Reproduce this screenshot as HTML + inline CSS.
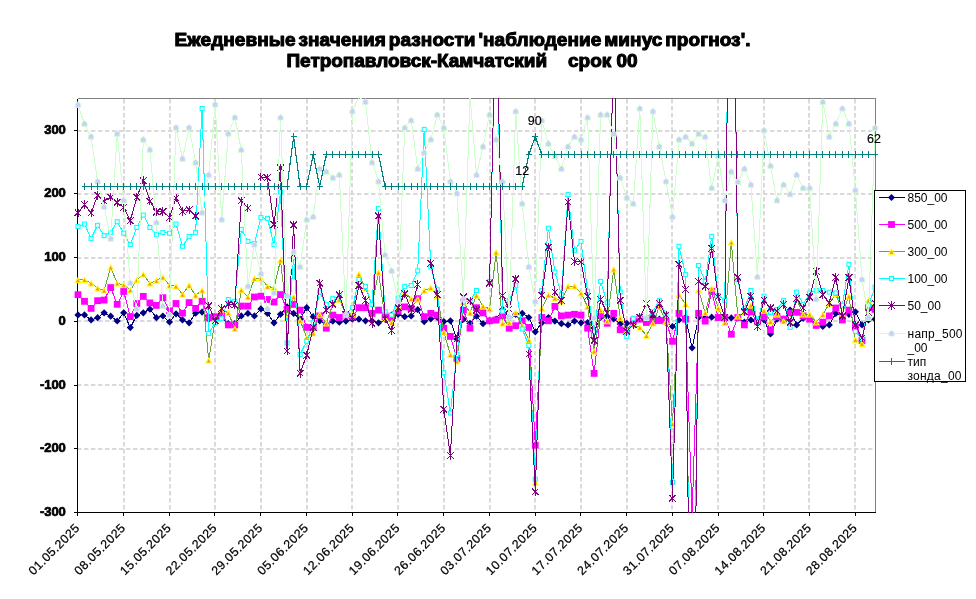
<!DOCTYPE html>
<html lang="ru"><head><meta charset="utf-8"><title>Ежедневные значения разности</title>
<style>html,body{margin:0;padding:0;background:#fff}body{width:976px;height:599px;overflow:hidden}svg{display:block}text{font-family:"Liberation Sans",Arial,sans-serif}</style></head><body>
<svg width="976" height="599" viewBox="0 0 976 599">
<rect width="976" height="599" fill="#fff"/>
<g font-weight="bold" font-size="19px" fill="#000" stroke="#000" stroke-width="1.1" stroke-linejoin="round" text-anchor="middle">
<text x="462.5" y="45.6" textLength="576" lengthAdjust="spacing" word-spacing="-2.5">Ежедневные значения разности 'наблюдение минус прогноз'.</text>
<text x="462" y="67.1" textLength="351" lengthAdjust="spacing" xml:space="preserve" style="white-space:pre">Петропавловск-Камчатский    срок 00</text>
</g>
<g stroke="#dadada" stroke-width="2" stroke-dasharray="4.4,2.6">
<line x1="77.0" x2="875.5" y1="131" y2="131"/>
<line x1="77.0" x2="875.5" y1="194" y2="194"/>
<line x1="77.0" x2="875.5" y1="258" y2="258"/>
<line x1="77.0" x2="875.5" y1="321" y2="321"/>
<line x1="77.0" x2="875.5" y1="385" y2="385"/>
<line x1="77.0" x2="875.5" y1="449" y2="449"/>
<line x1="124" x2="124" y1="99.0" y2="512.5"/>
<line x1="170" x2="170" y1="99.0" y2="512.5"/>
<line x1="215" x2="215" y1="99.0" y2="512.5"/>
<line x1="261" x2="261" y1="99.0" y2="512.5"/>
<line x1="307" x2="307" y1="99.0" y2="512.5"/>
<line x1="352" x2="352" y1="99.0" y2="512.5"/>
<line x1="398" x2="398" y1="99.0" y2="512.5"/>
<line x1="444" x2="444" y1="99.0" y2="512.5"/>
<line x1="490" x2="490" y1="99.0" y2="512.5"/>
<line x1="535" x2="535" y1="99.0" y2="512.5"/>
<line x1="581" x2="581" y1="99.0" y2="512.5"/>
<line x1="627" x2="627" y1="99.0" y2="512.5"/>
<line x1="672" x2="672" y1="99.0" y2="512.5"/>
<line x1="718" x2="718" y1="99.0" y2="512.5"/>
<line x1="764" x2="764" y1="99.0" y2="512.5"/>
<line x1="809" x2="809" y1="99.0" y2="512.5"/>
<line x1="855" x2="855" y1="99.0" y2="512.5"/>
</g>
<path d="M77.5 98.5H875.5V512.5" fill="none" stroke="#808080" stroke-width="1" shape-rendering="crispEdges"/>
<g stroke="#000" stroke-width="1" shape-rendering="crispEdges" fill="none">
<path d="M77.5 98.5V512.5H875.5"/>
<line x1="73.5" x2="77.5" y1="130.5" y2="130.5"/>
<line x1="73.5" x2="77.5" y1="193.5" y2="193.5"/>
<line x1="73.5" x2="77.5" y1="257.5" y2="257.5"/>
<line x1="73.5" x2="77.5" y1="321.5" y2="321.5"/>
<line x1="73.5" x2="77.5" y1="385.5" y2="385.5"/>
<line x1="73.5" x2="77.5" y1="448.5" y2="448.5"/>
<line x1="73.5" x2="77.5" y1="512.5" y2="512.5"/>
<line x1="77.5" x2="77.5" y1="512.5" y2="516.0"/>
<line x1="123.5" x2="123.5" y1="512.5" y2="516.0"/>
<line x1="169.5" x2="169.5" y1="512.5" y2="516.0"/>
<line x1="214.5" x2="214.5" y1="512.5" y2="516.0"/>
<line x1="260.5" x2="260.5" y1="512.5" y2="516.0"/>
<line x1="306.5" x2="306.5" y1="512.5" y2="516.0"/>
<line x1="352.5" x2="352.5" y1="512.5" y2="516.0"/>
<line x1="397.5" x2="397.5" y1="512.5" y2="516.0"/>
<line x1="443.5" x2="443.5" y1="512.5" y2="516.0"/>
<line x1="489.5" x2="489.5" y1="512.5" y2="516.0"/>
<line x1="535.5" x2="535.5" y1="512.5" y2="516.0"/>
<line x1="580.5" x2="580.5" y1="512.5" y2="516.0"/>
<line x1="626.5" x2="626.5" y1="512.5" y2="516.0"/>
<line x1="672.5" x2="672.5" y1="512.5" y2="516.0"/>
<line x1="718.5" x2="718.5" y1="512.5" y2="516.0"/>
<line x1="763.5" x2="763.5" y1="512.5" y2="516.0"/>
<line x1="809.5" x2="809.5" y1="512.5" y2="516.0"/>
<line x1="855.5" x2="855.5" y1="512.5" y2="516.0"/>
</g>
<defs><clipPath id="cp"><rect x="77.0" y="98.0" width="799.0" height="415.0"/></clipPath></defs>
<g clip-path="url(#cp)">
<path d="M78.0 314.9L84.5 314.9L91.1 319.9L97.6 317.7L104.1 312.8L110.7 316.2L117.2 321.0L123.7 312.8L130.3 327.6L136.8 315.4L143.3 312.8L149.9 309.2L156.4 317.7L162.9 316.0L169.5 322.0L176.0 313.8L182.5 319.9L189.1 322.8L195.6 313.2L202.1 312.1L208.7 319.2L215.2 319.2L221.7 317.5L228.3 323.7L234.8 323.7L241.3 315.9L247.9 313.4L254.4 315.9L260.9 308.9L267.5 313.4L274.0 322.8L280.5 314.3L287.1 306.9L293.6 313.4L300.1 319.2L306.7 307.7L313.2 316.7L319.7 320.8L326.3 324.1L332.8 321.1L339.3 322.2L345.9 321.1L352.4 319.2L358.9 319.2L365.5 320.8L372.0 321.1L378.5 322.8L385.1 319.2L391.6 315.1L398.1 314.3L404.7 316.7L411.2 315.9L417.7 309.7L424.2 321.6L430.8 318.8L437.3 317.5L443.8 321.6L450.4 320.8L456.9 338.9L463.4 319.2L470.0 323.3L476.5 316.2L483.0 323.7L489.6 320.8L496.1 319.2L502.6 309.4L509.2 317.5L515.7 314.3L522.2 313.4L528.8 317.5L535.3 331.8L541.8 322.8L548.4 317.5L554.9 321.1L561.4 323.7L568.0 324.9L574.5 321.1L581.0 322.8L587.6 322.5L594.1 331.5L600.6 317.5L607.2 316.7L613.7 318.8L620.2 324.1L626.8 323.3L633.3 324.1L639.8 317.5L646.4 319.2L652.9 316.7L659.4 319.2L666.0 322.5L672.5 326.5L679.0 320.0L685.6 317.5L692.1 347.8L698.6 317.5L705.2 317.5L711.7 317.2L718.2 317.5L724.8 316.7L731.3 317.9L737.8 317.5L744.4 322.2L750.9 320.0L757.4 322.5L764.0 320.0L770.5 333.9L777.0 319.2L783.6 319.2L790.1 310.1L796.6 324.9L803.2 318.3L809.7 317.5L816.2 324.9L822.8 326.5L829.3 324.9L835.8 313.4L842.4 315.9L848.9 314.3L855.4 311.8L862.0 324.9L868.5 320.0L875.0 319.2" fill="none" stroke="#000080" stroke-width="1" stroke-linejoin="round" shape-rendering="crispEdges"/>
</g><g>
<path d="M78 311.3L81.6 314.9L78 318.5L74.4 314.9Z" fill="#000080"/>
<path d="M84.5 311.3L88.1 314.9L84.5 318.5L80.9 314.9Z" fill="#000080"/>
<path d="M91.1 316.3L94.7 319.9L91.1 323.5L87.5 319.9Z" fill="#000080"/>
<path d="M97.6 314.1L101.2 317.7L97.6 321.3L94 317.7Z" fill="#000080"/>
<path d="M104.1 309.2L107.7 312.8L104.1 316.4L100.5 312.8Z" fill="#000080"/>
<path d="M110.7 312.6L114.3 316.2L110.7 319.8L107.1 316.2Z" fill="#000080"/>
<path d="M117.2 317.4L120.8 321L117.2 324.6L113.6 321Z" fill="#000080"/>
<path d="M123.7 309.2L127.3 312.8L123.7 316.4L120.1 312.8Z" fill="#000080"/>
<path d="M130.3 324L133.9 327.6L130.3 331.2L126.7 327.6Z" fill="#000080"/>
<path d="M136.8 311.8L140.4 315.4L136.8 319L133.2 315.4Z" fill="#000080"/>
<path d="M143.3 309.2L146.9 312.8L143.3 316.4L139.7 312.8Z" fill="#000080"/>
<path d="M149.9 305.6L153.5 309.2L149.9 312.8L146.3 309.2Z" fill="#000080"/>
<path d="M156.4 314.1L160 317.7L156.4 321.3L152.8 317.7Z" fill="#000080"/>
<path d="M162.9 312.4L166.5 316L162.9 319.6L159.3 316Z" fill="#000080"/>
<path d="M169.5 318.4L173.1 322L169.5 325.6L165.9 322Z" fill="#000080"/>
<path d="M176 310.2L179.6 313.8L176 317.4L172.4 313.8Z" fill="#000080"/>
<path d="M182.5 316.3L186.1 319.9L182.5 323.5L178.9 319.9Z" fill="#000080"/>
<path d="M189.1 319.2L192.7 322.8L189.1 326.4L185.5 322.8Z" fill="#000080"/>
<path d="M195.6 309.6L199.2 313.2L195.6 316.8L192 313.2Z" fill="#000080"/>
<path d="M202.1 308.5L205.7 312.1L202.1 315.7L198.5 312.1Z" fill="#000080"/>
<path d="M208.7 315.6L212.3 319.2L208.7 322.8L205.1 319.2Z" fill="#000080"/>
<path d="M215.2 315.6L218.8 319.2L215.2 322.8L211.6 319.2Z" fill="#000080"/>
<path d="M221.7 313.9L225.3 317.5L221.7 321.1L218.1 317.5Z" fill="#000080"/>
<path d="M228.3 320.1L231.9 323.7L228.3 327.3L224.7 323.7Z" fill="#000080"/>
<path d="M234.8 320.1L238.4 323.7L234.8 327.3L231.2 323.7Z" fill="#000080"/>
<path d="M241.3 312.3L244.9 315.9L241.3 319.5L237.7 315.9Z" fill="#000080"/>
<path d="M247.9 309.8L251.5 313.4L247.9 317L244.3 313.4Z" fill="#000080"/>
<path d="M254.4 312.3L258 315.9L254.4 319.5L250.8 315.9Z" fill="#000080"/>
<path d="M260.9 305.3L264.5 308.9L260.9 312.5L257.3 308.9Z" fill="#000080"/>
<path d="M267.5 309.8L271.1 313.4L267.5 317L263.9 313.4Z" fill="#000080"/>
<path d="M274 319.2L277.6 322.8L274 326.4L270.4 322.8Z" fill="#000080"/>
<path d="M280.5 310.7L284.1 314.3L280.5 317.9L276.9 314.3Z" fill="#000080"/>
<path d="M287.1 303.3L290.7 306.9L287.1 310.5L283.5 306.9Z" fill="#000080"/>
<path d="M293.6 309.8L297.2 313.4L293.6 317L290 313.4Z" fill="#000080"/>
<path d="M300.1 315.6L303.7 319.2L300.1 322.8L296.5 319.2Z" fill="#000080"/>
<path d="M306.7 304.1L310.3 307.7L306.7 311.3L303.1 307.7Z" fill="#000080"/>
<path d="M313.2 313.1L316.8 316.7L313.2 320.3L309.6 316.7Z" fill="#000080"/>
<path d="M319.7 317.2L323.3 320.8L319.7 324.4L316.1 320.8Z" fill="#000080"/>
<path d="M326.3 320.5L329.9 324.1L326.3 327.7L322.7 324.1Z" fill="#000080"/>
<path d="M332.8 317.5L336.4 321.1L332.8 324.7L329.2 321.1Z" fill="#000080"/>
<path d="M339.3 318.6L342.9 322.2L339.3 325.8L335.7 322.2Z" fill="#000080"/>
<path d="M345.9 317.5L349.5 321.1L345.9 324.7L342.3 321.1Z" fill="#000080"/>
<path d="M352.4 315.6L356 319.2L352.4 322.8L348.8 319.2Z" fill="#000080"/>
<path d="M358.9 315.6L362.5 319.2L358.9 322.8L355.3 319.2Z" fill="#000080"/>
<path d="M365.5 317.2L369.1 320.8L365.5 324.4L361.9 320.8Z" fill="#000080"/>
<path d="M372 317.5L375.6 321.1L372 324.7L368.4 321.1Z" fill="#000080"/>
<path d="M378.5 319.2L382.1 322.8L378.5 326.4L374.9 322.8Z" fill="#000080"/>
<path d="M385.1 315.6L388.7 319.2L385.1 322.8L381.5 319.2Z" fill="#000080"/>
<path d="M391.6 311.5L395.2 315.1L391.6 318.7L388 315.1Z" fill="#000080"/>
<path d="M398.1 310.7L401.7 314.3L398.1 317.9L394.5 314.3Z" fill="#000080"/>
<path d="M404.7 313.1L408.3 316.7L404.7 320.3L401.1 316.7Z" fill="#000080"/>
<path d="M411.2 312.3L414.8 315.9L411.2 319.5L407.6 315.9Z" fill="#000080"/>
<path d="M417.7 306.1L421.3 309.7L417.7 313.3L414.1 309.7Z" fill="#000080"/>
<path d="M424.2 318L427.8 321.6L424.2 325.2L420.6 321.6Z" fill="#000080"/>
<path d="M430.8 315.2L434.4 318.8L430.8 322.4L427.2 318.8Z" fill="#000080"/>
<path d="M437.3 313.9L440.9 317.5L437.3 321.1L433.7 317.5Z" fill="#000080"/>
<path d="M443.8 318L447.4 321.6L443.8 325.2L440.2 321.6Z" fill="#000080"/>
<path d="M450.4 317.2L454 320.8L450.4 324.4L446.8 320.8Z" fill="#000080"/>
<path d="M456.9 335.3L460.5 338.9L456.9 342.5L453.3 338.9Z" fill="#000080"/>
<path d="M463.4 315.6L467 319.2L463.4 322.8L459.8 319.2Z" fill="#000080"/>
<path d="M470 319.7L473.6 323.3L470 326.9L466.4 323.3Z" fill="#000080"/>
<path d="M476.5 312.6L480.1 316.2L476.5 319.8L472.9 316.2Z" fill="#000080"/>
<path d="M483 320.1L486.6 323.7L483 327.3L479.4 323.7Z" fill="#000080"/>
<path d="M489.6 317.2L493.2 320.8L489.6 324.4L486 320.8Z" fill="#000080"/>
<path d="M496.1 315.6L499.7 319.2L496.1 322.8L492.5 319.2Z" fill="#000080"/>
<path d="M502.6 305.8L506.2 309.4L502.6 313L499 309.4Z" fill="#000080"/>
<path d="M509.2 313.9L512.8 317.5L509.2 321.1L505.6 317.5Z" fill="#000080"/>
<path d="M515.7 310.7L519.3 314.3L515.7 317.9L512.1 314.3Z" fill="#000080"/>
<path d="M522.2 309.8L525.8 313.4L522.2 317L518.6 313.4Z" fill="#000080"/>
<path d="M528.8 313.9L532.4 317.5L528.8 321.1L525.2 317.5Z" fill="#000080"/>
<path d="M535.3 328.2L538.9 331.8L535.3 335.4L531.7 331.8Z" fill="#000080"/>
<path d="M541.8 319.2L545.4 322.8L541.8 326.4L538.2 322.8Z" fill="#000080"/>
<path d="M548.4 313.9L552 317.5L548.4 321.1L544.8 317.5Z" fill="#000080"/>
<path d="M554.9 317.5L558.5 321.1L554.9 324.7L551.3 321.1Z" fill="#000080"/>
<path d="M561.4 320.1L565 323.7L561.4 327.3L557.8 323.7Z" fill="#000080"/>
<path d="M568 321.3L571.6 324.9L568 328.5L564.4 324.9Z" fill="#000080"/>
<path d="M574.5 317.5L578.1 321.1L574.5 324.7L570.9 321.1Z" fill="#000080"/>
<path d="M581 319.2L584.6 322.8L581 326.4L577.4 322.8Z" fill="#000080"/>
<path d="M587.6 318.9L591.2 322.5L587.6 326.1L584 322.5Z" fill="#000080"/>
<path d="M594.1 327.9L597.7 331.5L594.1 335.1L590.5 331.5Z" fill="#000080"/>
<path d="M600.6 313.9L604.2 317.5L600.6 321.1L597 317.5Z" fill="#000080"/>
<path d="M607.2 313.1L610.8 316.7L607.2 320.3L603.6 316.7Z" fill="#000080"/>
<path d="M613.7 315.2L617.3 318.8L613.7 322.4L610.1 318.8Z" fill="#000080"/>
<path d="M620.2 320.5L623.8 324.1L620.2 327.7L616.6 324.1Z" fill="#000080"/>
<path d="M626.8 319.7L630.4 323.3L626.8 326.9L623.2 323.3Z" fill="#000080"/>
<path d="M633.3 320.5L636.9 324.1L633.3 327.7L629.7 324.1Z" fill="#000080"/>
<path d="M639.8 313.9L643.4 317.5L639.8 321.1L636.2 317.5Z" fill="#000080"/>
<path d="M646.4 315.6L650 319.2L646.4 322.8L642.8 319.2Z" fill="#000080"/>
<path d="M652.9 313.1L656.5 316.7L652.9 320.3L649.3 316.7Z" fill="#000080"/>
<path d="M659.4 315.6L663 319.2L659.4 322.8L655.8 319.2Z" fill="#000080"/>
<path d="M666 318.9L669.6 322.5L666 326.1L662.4 322.5Z" fill="#000080"/>
<path d="M672.5 322.9L676.1 326.5L672.5 330.1L668.9 326.5Z" fill="#000080"/>
<path d="M679 316.4L682.6 320L679 323.6L675.4 320Z" fill="#000080"/>
<path d="M685.6 313.9L689.2 317.5L685.6 321.1L682 317.5Z" fill="#000080"/>
<path d="M692.1 344.2L695.7 347.8L692.1 351.4L688.5 347.8Z" fill="#000080"/>
<path d="M698.6 313.9L702.2 317.5L698.6 321.1L695 317.5Z" fill="#000080"/>
<path d="M705.2 313.9L708.8 317.5L705.2 321.1L701.6 317.5Z" fill="#000080"/>
<path d="M711.7 313.6L715.3 317.2L711.7 320.8L708.1 317.2Z" fill="#000080"/>
<path d="M718.2 313.9L721.8 317.5L718.2 321.1L714.6 317.5Z" fill="#000080"/>
<path d="M724.8 313.1L728.4 316.7L724.8 320.3L721.2 316.7Z" fill="#000080"/>
<path d="M731.3 314.3L734.9 317.9L731.3 321.5L727.7 317.9Z" fill="#000080"/>
<path d="M737.8 313.9L741.4 317.5L737.8 321.1L734.2 317.5Z" fill="#000080"/>
<path d="M744.4 318.6L748 322.2L744.4 325.8L740.8 322.2Z" fill="#000080"/>
<path d="M750.9 316.4L754.5 320L750.9 323.6L747.3 320Z" fill="#000080"/>
<path d="M757.4 318.9L761 322.5L757.4 326.1L753.8 322.5Z" fill="#000080"/>
<path d="M764 316.4L767.6 320L764 323.6L760.4 320Z" fill="#000080"/>
<path d="M770.5 330.3L774.1 333.9L770.5 337.5L766.9 333.9Z" fill="#000080"/>
<path d="M777 315.6L780.6 319.2L777 322.8L773.4 319.2Z" fill="#000080"/>
<path d="M783.6 315.6L787.2 319.2L783.6 322.8L780 319.2Z" fill="#000080"/>
<path d="M790.1 306.5L793.7 310.1L790.1 313.7L786.5 310.1Z" fill="#000080"/>
<path d="M796.6 321.3L800.2 324.9L796.6 328.5L793 324.9Z" fill="#000080"/>
<path d="M803.2 314.7L806.8 318.3L803.2 321.9L799.6 318.3Z" fill="#000080"/>
<path d="M809.7 313.9L813.3 317.5L809.7 321.1L806.1 317.5Z" fill="#000080"/>
<path d="M816.2 321.3L819.8 324.9L816.2 328.5L812.6 324.9Z" fill="#000080"/>
<path d="M822.8 322.9L826.4 326.5L822.8 330.1L819.2 326.5Z" fill="#000080"/>
<path d="M829.3 321.3L832.9 324.9L829.3 328.5L825.7 324.9Z" fill="#000080"/>
<path d="M835.8 309.8L839.4 313.4L835.8 317L832.2 313.4Z" fill="#000080"/>
<path d="M842.4 312.3L846 315.9L842.4 319.5L838.8 315.9Z" fill="#000080"/>
<path d="M848.9 310.7L852.5 314.3L848.9 317.9L845.3 314.3Z" fill="#000080"/>
<path d="M855.4 308.2L859 311.8L855.4 315.4L851.8 311.8Z" fill="#000080"/>
<path d="M862 321.3L865.6 324.9L862 328.5L858.4 324.9Z" fill="#000080"/>
<path d="M868.5 316.4L872.1 320L868.5 323.6L864.9 320Z" fill="#000080"/>
<path d="M875 315.6L878.6 319.2L875 322.8L871.4 319.2Z" fill="#000080"/>
</g>
<g clip-path="url(#cp)">
<path d="M78.0 294.7L84.5 301.3L91.1 308.4L97.6 300.7L104.1 300.1L110.7 287.6L117.2 304.3L123.7 291.5L130.3 316.6L136.8 303.5L143.3 296.4L149.9 302.9L156.4 305.4L162.9 297.7L169.5 310.8L176.0 303.5L182.5 313.2L189.1 302.6L195.6 308.4L202.1 301.3L208.7 317.5L215.2 316.7L221.7 314.3L228.3 324.9L234.8 324.9L241.3 306.1L247.9 306.1L254.4 297.0L260.9 296.2L267.5 299.5L274.0 302.0L280.5 294.6L287.1 309.4L293.6 304.4L300.1 310.1L306.7 327.4L313.2 327.4L319.7 315.9L326.3 328.2L332.8 315.1L339.3 317.5L345.9 315.1L352.4 316.7L358.9 307.7L365.5 307.7L372.0 313.4L378.5 310.1L385.1 315.9L391.6 317.5L398.1 311.0L404.7 306.9L411.2 308.5L417.7 298.7L424.2 316.7L430.8 313.4L437.3 315.1L443.8 328.2L450.4 336.4L456.9 358.5L463.4 310.1L470.0 328.2L476.5 307.7L483.0 312.9L489.6 320.8L496.1 320.0L502.6 315.9L509.2 328.2L515.7 325.7L522.2 320.8L528.8 327.4L535.3 445.3L541.8 317.5L548.4 320.8L554.9 306.4L561.4 315.9L568.0 315.1L574.5 314.3L581.0 315.1L587.6 328.2L594.1 373.4L600.6 314.3L607.2 323.3L613.7 313.4L620.2 329.8L626.8 330.7L633.3 320.8L639.8 319.2L646.4 322.5L652.9 321.1L659.4 320.5L666.0 321.1L672.5 341.3L679.0 313.4L685.6 319.2L692.1 515.2L698.6 313.4L705.2 321.1L711.7 291.3L718.2 317.5L724.8 317.5L731.3 334.2L737.8 317.5L744.4 324.9L750.9 311.8L757.4 322.2L764.0 316.7L770.5 329.8L777.0 316.7L783.6 319.2L790.1 312.9L796.6 312.3L803.2 315.9L809.7 319.2L816.2 325.4L822.8 322.2L829.3 315.9L835.8 308.0L842.4 320.0L848.9 310.1L855.4 327.4L862.0 340.5L868.5 307.7L875.0 309.4" fill="none" stroke="#ff00ff" stroke-width="1" stroke-linejoin="round" shape-rendering="crispEdges"/>
</g><g>
<rect x="74.6" y="291.3" width="6.8" height="6.8" fill="#ff00ff"/>
<rect x="81.1" y="297.9" width="6.8" height="6.8" fill="#ff00ff"/>
<rect x="87.7" y="305" width="6.8" height="6.8" fill="#ff00ff"/>
<rect x="94.2" y="297.3" width="6.8" height="6.8" fill="#ff00ff"/>
<rect x="100.7" y="296.7" width="6.8" height="6.8" fill="#ff00ff"/>
<rect x="107.3" y="284.2" width="6.8" height="6.8" fill="#ff00ff"/>
<rect x="113.8" y="300.9" width="6.8" height="6.8" fill="#ff00ff"/>
<rect x="120.3" y="288.1" width="6.8" height="6.8" fill="#ff00ff"/>
<rect x="126.9" y="313.2" width="6.8" height="6.8" fill="#ff00ff"/>
<rect x="133.4" y="300.1" width="6.8" height="6.8" fill="#ff00ff"/>
<rect x="139.9" y="293" width="6.8" height="6.8" fill="#ff00ff"/>
<rect x="146.5" y="299.5" width="6.8" height="6.8" fill="#ff00ff"/>
<rect x="153" y="302" width="6.8" height="6.8" fill="#ff00ff"/>
<rect x="159.5" y="294.3" width="6.8" height="6.8" fill="#ff00ff"/>
<rect x="166.1" y="307.4" width="6.8" height="6.8" fill="#ff00ff"/>
<rect x="172.6" y="300.1" width="6.8" height="6.8" fill="#ff00ff"/>
<rect x="179.1" y="309.8" width="6.8" height="6.8" fill="#ff00ff"/>
<rect x="185.7" y="299.2" width="6.8" height="6.8" fill="#ff00ff"/>
<rect x="192.2" y="305" width="6.8" height="6.8" fill="#ff00ff"/>
<rect x="198.7" y="297.9" width="6.8" height="6.8" fill="#ff00ff"/>
<rect x="205.3" y="314.1" width="6.8" height="6.8" fill="#ff00ff"/>
<rect x="211.8" y="313.3" width="6.8" height="6.8" fill="#ff00ff"/>
<rect x="218.3" y="310.9" width="6.8" height="6.8" fill="#ff00ff"/>
<rect x="224.9" y="321.5" width="6.8" height="6.8" fill="#ff00ff"/>
<rect x="231.4" y="321.5" width="6.8" height="6.8" fill="#ff00ff"/>
<rect x="237.9" y="302.7" width="6.8" height="6.8" fill="#ff00ff"/>
<rect x="244.5" y="302.7" width="6.8" height="6.8" fill="#ff00ff"/>
<rect x="251" y="293.6" width="6.8" height="6.8" fill="#ff00ff"/>
<rect x="257.5" y="292.8" width="6.8" height="6.8" fill="#ff00ff"/>
<rect x="264.1" y="296.1" width="6.8" height="6.8" fill="#ff00ff"/>
<rect x="270.6" y="298.6" width="6.8" height="6.8" fill="#ff00ff"/>
<rect x="277.1" y="291.2" width="6.8" height="6.8" fill="#ff00ff"/>
<rect x="283.7" y="306" width="6.8" height="6.8" fill="#ff00ff"/>
<rect x="290.2" y="301" width="6.8" height="6.8" fill="#ff00ff"/>
<rect x="296.7" y="306.7" width="6.8" height="6.8" fill="#ff00ff"/>
<rect x="303.3" y="324" width="6.8" height="6.8" fill="#ff00ff"/>
<rect x="309.8" y="324" width="6.8" height="6.8" fill="#ff00ff"/>
<rect x="316.3" y="312.5" width="6.8" height="6.8" fill="#ff00ff"/>
<rect x="322.9" y="324.8" width="6.8" height="6.8" fill="#ff00ff"/>
<rect x="329.4" y="311.7" width="6.8" height="6.8" fill="#ff00ff"/>
<rect x="335.9" y="314.1" width="6.8" height="6.8" fill="#ff00ff"/>
<rect x="342.5" y="311.7" width="6.8" height="6.8" fill="#ff00ff"/>
<rect x="349" y="313.3" width="6.8" height="6.8" fill="#ff00ff"/>
<rect x="355.5" y="304.3" width="6.8" height="6.8" fill="#ff00ff"/>
<rect x="362.1" y="304.3" width="6.8" height="6.8" fill="#ff00ff"/>
<rect x="368.6" y="310" width="6.8" height="6.8" fill="#ff00ff"/>
<rect x="375.1" y="306.7" width="6.8" height="6.8" fill="#ff00ff"/>
<rect x="381.7" y="312.5" width="6.8" height="6.8" fill="#ff00ff"/>
<rect x="388.2" y="314.1" width="6.8" height="6.8" fill="#ff00ff"/>
<rect x="394.7" y="307.6" width="6.8" height="6.8" fill="#ff00ff"/>
<rect x="401.3" y="303.5" width="6.8" height="6.8" fill="#ff00ff"/>
<rect x="407.8" y="305.1" width="6.8" height="6.8" fill="#ff00ff"/>
<rect x="414.3" y="295.3" width="6.8" height="6.8" fill="#ff00ff"/>
<rect x="420.8" y="313.3" width="6.8" height="6.8" fill="#ff00ff"/>
<rect x="427.4" y="310" width="6.8" height="6.8" fill="#ff00ff"/>
<rect x="433.9" y="311.7" width="6.8" height="6.8" fill="#ff00ff"/>
<rect x="440.4" y="324.8" width="6.8" height="6.8" fill="#ff00ff"/>
<rect x="447" y="333" width="6.8" height="6.8" fill="#ff00ff"/>
<rect x="453.5" y="355.1" width="6.8" height="6.8" fill="#ff00ff"/>
<rect x="460" y="306.7" width="6.8" height="6.8" fill="#ff00ff"/>
<rect x="466.6" y="324.8" width="6.8" height="6.8" fill="#ff00ff"/>
<rect x="473.1" y="304.3" width="6.8" height="6.8" fill="#ff00ff"/>
<rect x="479.6" y="309.5" width="6.8" height="6.8" fill="#ff00ff"/>
<rect x="486.2" y="317.4" width="6.8" height="6.8" fill="#ff00ff"/>
<rect x="492.7" y="316.6" width="6.8" height="6.8" fill="#ff00ff"/>
<rect x="499.2" y="312.5" width="6.8" height="6.8" fill="#ff00ff"/>
<rect x="505.8" y="324.8" width="6.8" height="6.8" fill="#ff00ff"/>
<rect x="512.3" y="322.3" width="6.8" height="6.8" fill="#ff00ff"/>
<rect x="518.8" y="317.4" width="6.8" height="6.8" fill="#ff00ff"/>
<rect x="525.4" y="324" width="6.8" height="6.8" fill="#ff00ff"/>
<rect x="531.9" y="441.9" width="6.8" height="6.8" fill="#ff00ff"/>
<rect x="538.4" y="314.1" width="6.8" height="6.8" fill="#ff00ff"/>
<rect x="545" y="317.4" width="6.8" height="6.8" fill="#ff00ff"/>
<rect x="551.5" y="303" width="6.8" height="6.8" fill="#ff00ff"/>
<rect x="558" y="312.5" width="6.8" height="6.8" fill="#ff00ff"/>
<rect x="564.6" y="311.7" width="6.8" height="6.8" fill="#ff00ff"/>
<rect x="571.1" y="310.9" width="6.8" height="6.8" fill="#ff00ff"/>
<rect x="577.6" y="311.7" width="6.8" height="6.8" fill="#ff00ff"/>
<rect x="584.2" y="324.8" width="6.8" height="6.8" fill="#ff00ff"/>
<rect x="590.7" y="370" width="6.8" height="6.8" fill="#ff00ff"/>
<rect x="597.2" y="310.9" width="6.8" height="6.8" fill="#ff00ff"/>
<rect x="603.8" y="319.9" width="6.8" height="6.8" fill="#ff00ff"/>
<rect x="610.3" y="310" width="6.8" height="6.8" fill="#ff00ff"/>
<rect x="616.8" y="326.4" width="6.8" height="6.8" fill="#ff00ff"/>
<rect x="623.4" y="327.3" width="6.8" height="6.8" fill="#ff00ff"/>
<rect x="629.9" y="317.4" width="6.8" height="6.8" fill="#ff00ff"/>
<rect x="636.4" y="315.8" width="6.8" height="6.8" fill="#ff00ff"/>
<rect x="643" y="319.1" width="6.8" height="6.8" fill="#ff00ff"/>
<rect x="649.5" y="317.7" width="6.8" height="6.8" fill="#ff00ff"/>
<rect x="656" y="317.1" width="6.8" height="6.8" fill="#ff00ff"/>
<rect x="662.6" y="317.7" width="6.8" height="6.8" fill="#ff00ff"/>
<rect x="669.1" y="337.9" width="6.8" height="6.8" fill="#ff00ff"/>
<rect x="675.6" y="310" width="6.8" height="6.8" fill="#ff00ff"/>
<rect x="682.2" y="315.8" width="6.8" height="6.8" fill="#ff00ff"/>
<rect x="695.2" y="310" width="6.8" height="6.8" fill="#ff00ff"/>
<rect x="701.8" y="317.7" width="6.8" height="6.8" fill="#ff00ff"/>
<rect x="708.3" y="287.9" width="6.8" height="6.8" fill="#ff00ff"/>
<rect x="714.8" y="314.1" width="6.8" height="6.8" fill="#ff00ff"/>
<rect x="721.4" y="314.1" width="6.8" height="6.8" fill="#ff00ff"/>
<rect x="727.9" y="330.8" width="6.8" height="6.8" fill="#ff00ff"/>
<rect x="734.4" y="314.1" width="6.8" height="6.8" fill="#ff00ff"/>
<rect x="741" y="321.5" width="6.8" height="6.8" fill="#ff00ff"/>
<rect x="747.5" y="308.4" width="6.8" height="6.8" fill="#ff00ff"/>
<rect x="754" y="318.8" width="6.8" height="6.8" fill="#ff00ff"/>
<rect x="760.6" y="313.3" width="6.8" height="6.8" fill="#ff00ff"/>
<rect x="767.1" y="326.4" width="6.8" height="6.8" fill="#ff00ff"/>
<rect x="773.6" y="313.3" width="6.8" height="6.8" fill="#ff00ff"/>
<rect x="780.2" y="315.8" width="6.8" height="6.8" fill="#ff00ff"/>
<rect x="786.7" y="309.5" width="6.8" height="6.8" fill="#ff00ff"/>
<rect x="793.2" y="308.9" width="6.8" height="6.8" fill="#ff00ff"/>
<rect x="799.8" y="312.5" width="6.8" height="6.8" fill="#ff00ff"/>
<rect x="806.3" y="315.8" width="6.8" height="6.8" fill="#ff00ff"/>
<rect x="812.8" y="322" width="6.8" height="6.8" fill="#ff00ff"/>
<rect x="819.4" y="318.8" width="6.8" height="6.8" fill="#ff00ff"/>
<rect x="825.9" y="312.5" width="6.8" height="6.8" fill="#ff00ff"/>
<rect x="832.4" y="304.6" width="6.8" height="6.8" fill="#ff00ff"/>
<rect x="839" y="316.6" width="6.8" height="6.8" fill="#ff00ff"/>
<rect x="845.5" y="306.7" width="6.8" height="6.8" fill="#ff00ff"/>
<rect x="852" y="324" width="6.8" height="6.8" fill="#ff00ff"/>
<rect x="858.6" y="337.1" width="6.8" height="6.8" fill="#ff00ff"/>
<rect x="865.1" y="304.3" width="6.8" height="6.8" fill="#ff00ff"/>
<rect x="871.6" y="306" width="6.8" height="6.8" fill="#ff00ff"/>
</g>
<g clip-path="url(#cp)">
<path d="M78.0 280.0L84.5 279.7L91.1 283.3L97.6 288.2L104.1 290.4L110.7 267.4L117.2 283.3L123.7 284.9L130.3 290.0L136.8 280.0L143.3 274.3L149.9 283.3L156.4 280.5L162.9 277.2L169.5 285.4L176.0 286.2L182.5 294.4L189.1 285.4L195.6 295.3L202.1 290.4L208.7 360.2L215.2 319.2L221.7 309.4L228.3 312.9L234.8 328.7L241.3 290.0L247.9 297.0L254.4 278.5L260.9 278.2L267.5 286.4L274.0 287.7L280.5 260.2L287.1 318.3L293.6 297.0L300.1 320.5L306.7 337.5L313.2 333.1L319.7 314.6L326.3 323.3L332.8 304.4L339.3 299.5L345.9 314.3L352.4 314.3L358.9 274.1L365.5 288.1L372.0 304.4L378.5 272.5L385.1 318.3L391.6 322.5L398.1 306.9L404.7 292.1L411.2 298.7L417.7 299.2L424.2 290.5L430.8 287.7L437.3 296.2L443.8 332.3L450.4 354.6L456.9 361.0L463.4 302.0L470.0 312.9L476.5 295.4L483.0 306.1L489.6 308.9L496.1 252.3L502.6 323.3L509.2 322.5L515.7 312.9L522.2 325.7L528.8 340.0L535.3 482.2L541.8 308.5L548.4 294.9L554.9 298.2L561.4 301.2L568.0 286.4L574.5 286.1L581.0 293.0L587.6 306.9L594.1 351.2L600.6 310.1L607.2 321.1L613.7 269.2L620.2 317.9L626.8 330.7L633.3 324.9L639.8 327.4L646.4 335.6L652.9 323.3L659.4 306.9L666.0 321.6L672.5 423.7L679.0 294.6L685.6 304.1L692.1 766.4L698.6 290.0L705.2 312.9L711.7 288.4L718.2 308.0L724.8 322.8L731.3 242.2L737.8 316.2L744.4 312.6L750.9 305.2L757.4 322.8L764.0 310.6L770.5 321.6L777.0 314.3L783.6 321.1L790.1 319.2L796.6 298.7L803.2 314.3L809.7 314.3L816.2 322.2L822.8 314.6L829.3 303.6L835.8 293.8L842.4 313.4L848.9 296.2L855.4 339.6L862.0 343.8L868.5 300.3L875.0 302.8" fill="none" stroke="#6aa53c" stroke-width="1" stroke-linejoin="round" shape-rendering="crispEdges"/>
</g><g>
<path d="M78 276.7L81.7 283.2H74.3Z" fill="#ffff00"/><path d="M78 278.7L79.8 282.3H76.2Z" fill="#ff8c3a"/>
<path d="M84.5 276.4L88.2 282.9H80.8Z" fill="#ffff00"/><path d="M84.5 278.4L86.3 282H82.7Z" fill="#ff8c3a"/>
<path d="M91.1 280L94.8 286.5H87.4Z" fill="#ffff00"/><path d="M91.1 282L92.9 285.6H89.3Z" fill="#ff8c3a"/>
<path d="M97.6 284.9L101.3 291.4H93.9Z" fill="#ffff00"/><path d="M97.6 286.9L99.4 290.5H95.8Z" fill="#ff8c3a"/>
<path d="M104.1 287.1L107.8 293.6H100.4Z" fill="#ffff00"/><path d="M104.1 289.1L105.9 292.7H102.3Z" fill="#ff8c3a"/>
<path d="M110.7 264.1L114.4 270.6H107Z" fill="#ffff00"/><path d="M110.7 266.1L112.5 269.7H108.9Z" fill="#ff8c3a"/>
<path d="M117.2 280L120.9 286.5H113.5Z" fill="#ffff00"/><path d="M117.2 282L119 285.6H115.4Z" fill="#ff8c3a"/>
<path d="M123.7 281.6L127.4 288.1H120Z" fill="#ffff00"/><path d="M123.7 283.6L125.5 287.2H121.9Z" fill="#ff8c3a"/>
<path d="M130.3 286.7L134 293.2H126.6Z" fill="#ffff00"/><path d="M130.3 288.7L132.1 292.3H128.5Z" fill="#ff8c3a"/>
<path d="M136.8 276.7L140.5 283.2H133.1Z" fill="#ffff00"/><path d="M136.8 278.7L138.6 282.3H135Z" fill="#ff8c3a"/>
<path d="M143.3 271L147 277.5H139.6Z" fill="#ffff00"/><path d="M143.3 273L145.1 276.6H141.5Z" fill="#ff8c3a"/>
<path d="M149.9 280L153.6 286.5H146.2Z" fill="#ffff00"/><path d="M149.9 282L151.7 285.6H148.1Z" fill="#ff8c3a"/>
<path d="M156.4 277.2L160.1 283.7H152.7Z" fill="#ffff00"/><path d="M156.4 279.2L158.2 282.8H154.6Z" fill="#ff8c3a"/>
<path d="M162.9 273.9L166.6 280.4H159.2Z" fill="#ffff00"/><path d="M162.9 275.9L164.7 279.5H161.1Z" fill="#ff8c3a"/>
<path d="M169.5 282.1L173.2 288.6H165.8Z" fill="#ffff00"/><path d="M169.5 284.1L171.3 287.7H167.7Z" fill="#ff8c3a"/>
<path d="M176 282.9L179.7 289.4H172.3Z" fill="#ffff00"/><path d="M176 284.9L177.8 288.5H174.2Z" fill="#ff8c3a"/>
<path d="M182.5 291.1L186.2 297.6H178.8Z" fill="#ffff00"/><path d="M182.5 293.1L184.3 296.7H180.7Z" fill="#ff8c3a"/>
<path d="M189.1 282.1L192.8 288.6H185.4Z" fill="#ffff00"/><path d="M189.1 284.1L190.9 287.7H187.3Z" fill="#ff8c3a"/>
<path d="M195.6 292L199.3 298.5H191.9Z" fill="#ffff00"/><path d="M195.6 294L197.4 297.6H193.8Z" fill="#ff8c3a"/>
<path d="M202.1 287.1L205.8 293.6H198.4Z" fill="#ffff00"/><path d="M202.1 289.1L203.9 292.7H200.3Z" fill="#ff8c3a"/>
<path d="M208.7 356.9L212.4 363.4H205Z" fill="#ffff00"/><path d="M208.7 358.9L210.5 362.5H206.9Z" fill="#ff8c3a"/>
<path d="M215.2 315.9L218.9 322.4H211.5Z" fill="#ffff00"/><path d="M215.2 317.9L217 321.5H213.4Z" fill="#ff8c3a"/>
<path d="M221.7 306.1L225.4 312.6H218Z" fill="#ffff00"/><path d="M221.7 308.1L223.5 311.7H219.9Z" fill="#ff8c3a"/>
<path d="M228.3 309.6L232 316.1H224.6Z" fill="#ffff00"/><path d="M228.3 311.6L230.1 315.2H226.5Z" fill="#ff8c3a"/>
<path d="M234.8 325.4L238.5 331.9H231.1Z" fill="#ffff00"/><path d="M234.8 327.4L236.6 331H233Z" fill="#ff8c3a"/>
<path d="M241.3 286.7L245 293.2H237.6Z" fill="#ffff00"/><path d="M241.3 288.7L243.1 292.3H239.5Z" fill="#ff8c3a"/>
<path d="M247.9 293.7L251.6 300.2H244.2Z" fill="#ffff00"/><path d="M247.9 295.7L249.7 299.3H246.1Z" fill="#ff8c3a"/>
<path d="M254.4 275.2L258.1 281.7H250.7Z" fill="#ffff00"/><path d="M254.4 277.2L256.2 280.8H252.6Z" fill="#ff8c3a"/>
<path d="M260.9 274.9L264.6 281.4H257.2Z" fill="#ffff00"/><path d="M260.9 276.9L262.7 280.5H259.1Z" fill="#ff8c3a"/>
<path d="M267.5 283.1L271.2 289.6H263.8Z" fill="#ffff00"/><path d="M267.5 285.1L269.3 288.7H265.7Z" fill="#ff8c3a"/>
<path d="M274 284.4L277.7 290.9H270.3Z" fill="#ffff00"/><path d="M274 286.4L275.8 290H272.2Z" fill="#ff8c3a"/>
<path d="M280.5 256.9L284.2 263.4H276.8Z" fill="#ffff00"/><path d="M280.5 258.9L282.3 262.5H278.7Z" fill="#ff8c3a"/>
<path d="M287.1 315L290.8 321.5H283.4Z" fill="#ffff00"/><path d="M287.1 317L288.9 320.6H285.3Z" fill="#ff8c3a"/>
<path d="M293.6 293.7L297.3 300.2H289.9Z" fill="#ffff00"/><path d="M293.6 295.7L295.4 299.3H291.8Z" fill="#ff8c3a"/>
<path d="M300.1 317.2L303.8 323.7H296.4Z" fill="#ffff00"/><path d="M300.1 319.2L301.9 322.8H298.3Z" fill="#ff8c3a"/>
<path d="M306.7 334.2L310.4 340.7H303Z" fill="#ffff00"/><path d="M306.7 336.2L308.5 339.8H304.9Z" fill="#ff8c3a"/>
<path d="M313.2 329.8L316.9 336.3H309.5Z" fill="#ffff00"/><path d="M313.2 331.8L315 335.4H311.4Z" fill="#ff8c3a"/>
<path d="M319.7 311.3L323.4 317.8H316Z" fill="#ffff00"/><path d="M319.7 313.3L321.5 316.9H317.9Z" fill="#ff8c3a"/>
<path d="M326.3 320L330 326.5H322.6Z" fill="#ffff00"/><path d="M326.3 322L328.1 325.6H324.5Z" fill="#ff8c3a"/>
<path d="M332.8 301.1L336.5 307.6H329.1Z" fill="#ffff00"/><path d="M332.8 303.1L334.6 306.7H331Z" fill="#ff8c3a"/>
<path d="M339.3 296.2L343 302.7H335.6Z" fill="#ffff00"/><path d="M339.3 298.2L341.1 301.8H337.5Z" fill="#ff8c3a"/>
<path d="M345.9 311L349.6 317.5H342.2Z" fill="#ffff00"/><path d="M345.9 313L347.7 316.6H344.1Z" fill="#ff8c3a"/>
<path d="M352.4 311L356.1 317.5H348.7Z" fill="#ffff00"/><path d="M352.4 313L354.2 316.6H350.6Z" fill="#ff8c3a"/>
<path d="M358.9 270.8L362.6 277.3H355.2Z" fill="#ffff00"/><path d="M358.9 272.8L360.7 276.4H357.1Z" fill="#ff8c3a"/>
<path d="M365.5 284.8L369.2 291.3H361.8Z" fill="#ffff00"/><path d="M365.5 286.8L367.3 290.4H363.7Z" fill="#ff8c3a"/>
<path d="M372 301.1L375.7 307.6H368.3Z" fill="#ffff00"/><path d="M372 303.1L373.8 306.7H370.2Z" fill="#ff8c3a"/>
<path d="M378.5 269.2L382.2 275.7H374.8Z" fill="#ffff00"/><path d="M378.5 271.2L380.3 274.8H376.7Z" fill="#ff8c3a"/>
<path d="M385.1 315L388.8 321.5H381.4Z" fill="#ffff00"/><path d="M385.1 317L386.9 320.6H383.3Z" fill="#ff8c3a"/>
<path d="M391.6 319.2L395.3 325.7H387.9Z" fill="#ffff00"/><path d="M391.6 321.2L393.4 324.8H389.8Z" fill="#ff8c3a"/>
<path d="M398.1 303.6L401.8 310.1H394.4Z" fill="#ffff00"/><path d="M398.1 305.6L399.9 309.2H396.3Z" fill="#ff8c3a"/>
<path d="M404.7 288.8L408.4 295.3H401Z" fill="#ffff00"/><path d="M404.7 290.8L406.5 294.4H402.9Z" fill="#ff8c3a"/>
<path d="M411.2 295.4L414.9 301.9H407.5Z" fill="#ffff00"/><path d="M411.2 297.4L413 301H409.4Z" fill="#ff8c3a"/>
<path d="M417.7 295.9L421.4 302.4H414Z" fill="#ffff00"/><path d="M417.7 297.9L419.5 301.5H415.9Z" fill="#ff8c3a"/>
<path d="M424.2 287.2L427.9 293.7H420.5Z" fill="#ffff00"/><path d="M424.2 289.2L426 292.8H422.4Z" fill="#ff8c3a"/>
<path d="M430.8 284.4L434.5 290.9H427.1Z" fill="#ffff00"/><path d="M430.8 286.4L432.6 290H429Z" fill="#ff8c3a"/>
<path d="M437.3 292.9L441 299.4H433.6Z" fill="#ffff00"/><path d="M437.3 294.9L439.1 298.5H435.5Z" fill="#ff8c3a"/>
<path d="M443.8 329L447.5 335.5H440.1Z" fill="#ffff00"/><path d="M443.8 331L445.6 334.6H442Z" fill="#ff8c3a"/>
<path d="M450.4 351.3L454.1 357.8H446.7Z" fill="#ffff00"/><path d="M450.4 353.3L452.2 356.9H448.6Z" fill="#ff8c3a"/>
<path d="M456.9 357.7L460.6 364.2H453.2Z" fill="#ffff00"/><path d="M456.9 359.7L458.7 363.3H455.1Z" fill="#ff8c3a"/>
<path d="M463.4 298.7L467.1 305.2H459.7Z" fill="#ffff00"/><path d="M463.4 300.7L465.2 304.3H461.6Z" fill="#ff8c3a"/>
<path d="M470 309.6L473.7 316.1H466.3Z" fill="#ffff00"/><path d="M470 311.6L471.8 315.2H468.2Z" fill="#ff8c3a"/>
<path d="M476.5 292.1L480.2 298.6H472.8Z" fill="#ffff00"/><path d="M476.5 294.1L478.3 297.7H474.7Z" fill="#ff8c3a"/>
<path d="M483 302.8L486.7 309.3H479.3Z" fill="#ffff00"/><path d="M483 304.8L484.8 308.4H481.2Z" fill="#ff8c3a"/>
<path d="M489.6 305.6L493.3 312.1H485.9Z" fill="#ffff00"/><path d="M489.6 307.6L491.4 311.2H487.8Z" fill="#ff8c3a"/>
<path d="M496.1 249L499.8 255.5H492.4Z" fill="#ffff00"/><path d="M496.1 251L497.9 254.6H494.3Z" fill="#ff8c3a"/>
<path d="M502.6 320L506.3 326.5H498.9Z" fill="#ffff00"/><path d="M502.6 322L504.4 325.6H500.8Z" fill="#ff8c3a"/>
<path d="M509.2 319.2L512.9 325.7H505.5Z" fill="#ffff00"/><path d="M509.2 321.2L511 324.8H507.4Z" fill="#ff8c3a"/>
<path d="M515.7 309.6L519.4 316.1H512Z" fill="#ffff00"/><path d="M515.7 311.6L517.5 315.2H513.9Z" fill="#ff8c3a"/>
<path d="M522.2 322.4L525.9 328.9H518.5Z" fill="#ffff00"/><path d="M522.2 324.4L524 328H520.4Z" fill="#ff8c3a"/>
<path d="M528.8 336.7L532.5 343.2H525.1Z" fill="#ffff00"/><path d="M528.8 338.7L530.6 342.3H527Z" fill="#ff8c3a"/>
<path d="M535.3 478.9L539 485.4H531.6Z" fill="#ffff00"/><path d="M535.3 480.9L537.1 484.5H533.5Z" fill="#ff8c3a"/>
<path d="M541.8 305.2L545.5 311.7H538.1Z" fill="#ffff00"/><path d="M541.8 307.2L543.6 310.8H540Z" fill="#ff8c3a"/>
<path d="M548.4 291.6L552.1 298.1H544.7Z" fill="#ffff00"/><path d="M548.4 293.6L550.2 297.2H546.6Z" fill="#ff8c3a"/>
<path d="M554.9 294.9L558.6 301.4H551.2Z" fill="#ffff00"/><path d="M554.9 296.9L556.7 300.5H553.1Z" fill="#ff8c3a"/>
<path d="M561.4 297.9L565.1 304.4H557.7Z" fill="#ffff00"/><path d="M561.4 299.9L563.2 303.5H559.6Z" fill="#ff8c3a"/>
<path d="M568 283.1L571.7 289.6H564.3Z" fill="#ffff00"/><path d="M568 285.1L569.8 288.7H566.2Z" fill="#ff8c3a"/>
<path d="M574.5 282.8L578.2 289.3H570.8Z" fill="#ffff00"/><path d="M574.5 284.8L576.3 288.4H572.7Z" fill="#ff8c3a"/>
<path d="M581 289.7L584.7 296.2H577.3Z" fill="#ffff00"/><path d="M581 291.7L582.8 295.3H579.2Z" fill="#ff8c3a"/>
<path d="M587.6 303.6L591.3 310.1H583.9Z" fill="#ffff00"/><path d="M587.6 305.6L589.4 309.2H585.8Z" fill="#ff8c3a"/>
<path d="M594.1 347.9L597.8 354.4H590.4Z" fill="#ffff00"/><path d="M594.1 349.9L595.9 353.5H592.3Z" fill="#ff8c3a"/>
<path d="M600.6 306.8L604.3 313.3H596.9Z" fill="#ffff00"/><path d="M600.6 308.8L602.4 312.4H598.8Z" fill="#ff8c3a"/>
<path d="M607.2 317.8L610.9 324.3H603.5Z" fill="#ffff00"/><path d="M607.2 319.8L609 323.4H605.4Z" fill="#ff8c3a"/>
<path d="M613.7 265.9L617.4 272.4H610Z" fill="#ffff00"/><path d="M613.7 267.9L615.5 271.5H611.9Z" fill="#ff8c3a"/>
<path d="M620.2 314.6L623.9 321.1H616.5Z" fill="#ffff00"/><path d="M620.2 316.6L622 320.2H618.4Z" fill="#ff8c3a"/>
<path d="M626.8 327.4L630.5 333.9H623.1Z" fill="#ffff00"/><path d="M626.8 329.4L628.6 333H625Z" fill="#ff8c3a"/>
<path d="M633.3 321.6L637 328.1H629.6Z" fill="#ffff00"/><path d="M633.3 323.6L635.1 327.2H631.5Z" fill="#ff8c3a"/>
<path d="M639.8 324.1L643.5 330.6H636.1Z" fill="#ffff00"/><path d="M639.8 326.1L641.6 329.7H638Z" fill="#ff8c3a"/>
<path d="M646.4 332.3L650.1 338.8H642.7Z" fill="#ffff00"/><path d="M646.4 334.3L648.2 337.9H644.6Z" fill="#ff8c3a"/>
<path d="M652.9 320L656.6 326.5H649.2Z" fill="#ffff00"/><path d="M652.9 322L654.7 325.6H651.1Z" fill="#ff8c3a"/>
<path d="M659.4 303.6L663.1 310.1H655.7Z" fill="#ffff00"/><path d="M659.4 305.6L661.2 309.2H657.6Z" fill="#ff8c3a"/>
<path d="M666 318.3L669.7 324.8H662.3Z" fill="#ffff00"/><path d="M666 320.3L667.8 323.9H664.2Z" fill="#ff8c3a"/>
<path d="M672.5 420.4L676.2 426.9H668.8Z" fill="#ffff00"/><path d="M672.5 422.4L674.3 426H670.7Z" fill="#ff8c3a"/>
<path d="M679 291.3L682.7 297.8H675.3Z" fill="#ffff00"/><path d="M679 293.3L680.8 296.9H677.2Z" fill="#ff8c3a"/>
<path d="M685.6 300.8L689.3 307.3H681.9Z" fill="#ffff00"/><path d="M685.6 302.8L687.4 306.4H683.8Z" fill="#ff8c3a"/>
<path d="M698.6 286.7L702.3 293.2H694.9Z" fill="#ffff00"/><path d="M698.6 288.7L700.4 292.3H696.8Z" fill="#ff8c3a"/>
<path d="M705.2 309.6L708.9 316.1H701.5Z" fill="#ffff00"/><path d="M705.2 311.6L707 315.2H703.4Z" fill="#ff8c3a"/>
<path d="M711.7 285.1L715.4 291.6H708Z" fill="#ffff00"/><path d="M711.7 287.1L713.5 290.7H709.9Z" fill="#ff8c3a"/>
<path d="M718.2 304.7L721.9 311.2H714.5Z" fill="#ffff00"/><path d="M718.2 306.7L720 310.3H716.4Z" fill="#ff8c3a"/>
<path d="M724.8 319.5L728.5 326H721.1Z" fill="#ffff00"/><path d="M724.8 321.5L726.6 325.1H723Z" fill="#ff8c3a"/>
<path d="M731.3 238.9L735 245.4H727.6Z" fill="#ffff00"/><path d="M731.3 240.9L733.1 244.5H729.5Z" fill="#ff8c3a"/>
<path d="M737.8 312.9L741.5 319.4H734.1Z" fill="#ffff00"/><path d="M737.8 314.9L739.6 318.5H736Z" fill="#ff8c3a"/>
<path d="M744.4 309.3L748.1 315.8H740.7Z" fill="#ffff00"/><path d="M744.4 311.3L746.2 314.9H742.6Z" fill="#ff8c3a"/>
<path d="M750.9 301.9L754.6 308.4H747.2Z" fill="#ffff00"/><path d="M750.9 303.9L752.7 307.5H749.1Z" fill="#ff8c3a"/>
<path d="M757.4 319.5L761.1 326H753.7Z" fill="#ffff00"/><path d="M757.4 321.5L759.2 325.1H755.6Z" fill="#ff8c3a"/>
<path d="M764 307.3L767.7 313.8H760.3Z" fill="#ffff00"/><path d="M764 309.3L765.8 312.9H762.2Z" fill="#ff8c3a"/>
<path d="M770.5 318.3L774.2 324.8H766.8Z" fill="#ffff00"/><path d="M770.5 320.3L772.3 323.9H768.7Z" fill="#ff8c3a"/>
<path d="M777 311L780.7 317.5H773.3Z" fill="#ffff00"/><path d="M777 313L778.8 316.6H775.2Z" fill="#ff8c3a"/>
<path d="M783.6 317.8L787.3 324.3H779.9Z" fill="#ffff00"/><path d="M783.6 319.8L785.4 323.4H781.8Z" fill="#ff8c3a"/>
<path d="M790.1 315.9L793.8 322.4H786.4Z" fill="#ffff00"/><path d="M790.1 317.9L791.9 321.5H788.3Z" fill="#ff8c3a"/>
<path d="M796.6 295.4L800.3 301.9H792.9Z" fill="#ffff00"/><path d="M796.6 297.4L798.4 301H794.8Z" fill="#ff8c3a"/>
<path d="M803.2 311L806.9 317.5H799.5Z" fill="#ffff00"/><path d="M803.2 313L805 316.6H801.4Z" fill="#ff8c3a"/>
<path d="M809.7 311L813.4 317.5H806Z" fill="#ffff00"/><path d="M809.7 313L811.5 316.6H807.9Z" fill="#ff8c3a"/>
<path d="M816.2 318.9L819.9 325.4H812.5Z" fill="#ffff00"/><path d="M816.2 320.9L818 324.5H814.4Z" fill="#ff8c3a"/>
<path d="M822.8 311.3L826.5 317.8H819.1Z" fill="#ffff00"/><path d="M822.8 313.3L824.6 316.9H821Z" fill="#ff8c3a"/>
<path d="M829.3 300.3L833 306.8H825.6Z" fill="#ffff00"/><path d="M829.3 302.3L831.1 305.9H827.5Z" fill="#ff8c3a"/>
<path d="M835.8 290.5L839.5 297H832.1Z" fill="#ffff00"/><path d="M835.8 292.5L837.6 296.1H834Z" fill="#ff8c3a"/>
<path d="M842.4 310.1L846.1 316.6H838.7Z" fill="#ffff00"/><path d="M842.4 312.1L844.2 315.7H840.6Z" fill="#ff8c3a"/>
<path d="M848.9 292.9L852.6 299.4H845.2Z" fill="#ffff00"/><path d="M848.9 294.9L850.7 298.5H847.1Z" fill="#ff8c3a"/>
<path d="M855.4 336.3L859.1 342.8H851.7Z" fill="#ffff00"/><path d="M855.4 338.3L857.2 341.9H853.6Z" fill="#ff8c3a"/>
<path d="M862 340.5L865.7 347H858.3Z" fill="#ffff00"/><path d="M862 342.5L863.8 346.1H860.2Z" fill="#ff8c3a"/>
<path d="M868.5 297L872.2 303.5H864.8Z" fill="#ffff00"/><path d="M868.5 299L870.3 302.6H866.7Z" fill="#ff8c3a"/>
<path d="M875 299.5L878.7 306H871.3Z" fill="#ffff00"/><path d="M875 301.5L876.8 305.1H873.2Z" fill="#ff8c3a"/>
</g>
<g clip-path="url(#cp)">
<path d="M78.0 226.6L84.5 224.1L91.1 238.4L97.6 225.3L104.1 235.6L110.7 232.4L117.2 221.7L123.7 233.2L130.3 244.6L136.8 227.5L143.3 215.1L149.9 227.5L156.4 234.3L162.9 232.4L169.5 233.2L176.0 224.1L182.5 246.3L189.1 236.4L195.6 232.4L202.1 108.5L208.7 333.4L215.2 322.5L221.7 318.7L228.3 299.5L234.8 301.2L241.3 229.4L247.9 241.4L254.4 243.5L260.9 217.6L267.5 218.4L274.0 244.6L280.5 192.1L287.1 343.0L293.6 257.7L300.1 354.4L306.7 341.3L313.2 322.8L319.7 292.1L326.3 304.7L332.8 298.7L339.3 295.9L345.9 314.3L352.4 307.7L358.9 279.5L365.5 286.4L372.0 304.4L378.5 208.6L385.1 311.8L391.6 315.1L398.1 298.7L404.7 286.4L411.2 285.6L417.7 270.8L424.2 129.4L430.8 266.8L437.3 289.7L443.8 372.7L450.4 413.0L456.9 354.4L463.4 302.0L470.0 301.2L476.5 290.5M489.6 281.4L496.1 -9.5L502.6 311.3L509.2 300.3L515.7 285.6L522.2 329.0L528.8 345.4L535.3 479.2L541.8 290.5L548.4 228.2L554.9 272.0L561.4 294.6L568.0 194.6L574.5 250.3L581.0 241.4L587.6 291.3L594.1 331.9L600.6 281.4L607.2 302.8L613.7 47.7L620.2 292.1L626.8 336.4L633.3 318.3L639.8 317.5L646.4 318.3L652.9 311.8L659.4 300.3L666.0 314.3L672.5 482.3L679.0 246.3L685.6 274.6L692.1 830.0L698.6 265.5L705.2 281.4L711.7 236.4L718.2 295.4L724.8 300.3L731.3 -251.2L737.8 279.9L744.4 309.0L750.9 290.5L757.4 322.5L764.0 296.2L770.5 312.6L777.0 309.4L783.6 300.3L790.1 327.4L796.6 292.1L803.2 304.4L809.7 293.0L816.2 290.5L822.8 290.5L829.3 292.1L835.8 293.0L842.4 305.2L848.9 264.3L855.4 331.5L862.0 338.9L868.5 305.2L875.0 287.2" fill="none" stroke="#00ffff" stroke-width="1" stroke-linejoin="round" shape-rendering="crispEdges"/>
</g><g>
<rect x="76" y="224.6" width="4" height="4" fill="#e6ffff" stroke="#00ffff" stroke-width="1"/>
<rect x="82.5" y="222.1" width="4" height="4" fill="#e6ffff" stroke="#00ffff" stroke-width="1"/>
<rect x="89.1" y="236.4" width="4" height="4" fill="#e6ffff" stroke="#00ffff" stroke-width="1"/>
<rect x="95.6" y="223.3" width="4" height="4" fill="#e6ffff" stroke="#00ffff" stroke-width="1"/>
<rect x="102.1" y="233.6" width="4" height="4" fill="#e6ffff" stroke="#00ffff" stroke-width="1"/>
<rect x="108.7" y="230.4" width="4" height="4" fill="#e6ffff" stroke="#00ffff" stroke-width="1"/>
<rect x="115.2" y="219.7" width="4" height="4" fill="#e6ffff" stroke="#00ffff" stroke-width="1"/>
<rect x="121.7" y="231.2" width="4" height="4" fill="#e6ffff" stroke="#00ffff" stroke-width="1"/>
<rect x="128.3" y="242.6" width="4" height="4" fill="#e6ffff" stroke="#00ffff" stroke-width="1"/>
<rect x="134.8" y="225.5" width="4" height="4" fill="#e6ffff" stroke="#00ffff" stroke-width="1"/>
<rect x="141.3" y="213.1" width="4" height="4" fill="#e6ffff" stroke="#00ffff" stroke-width="1"/>
<rect x="147.9" y="225.5" width="4" height="4" fill="#e6ffff" stroke="#00ffff" stroke-width="1"/>
<rect x="154.4" y="232.3" width="4" height="4" fill="#e6ffff" stroke="#00ffff" stroke-width="1"/>
<rect x="160.9" y="230.4" width="4" height="4" fill="#e6ffff" stroke="#00ffff" stroke-width="1"/>
<rect x="167.5" y="231.2" width="4" height="4" fill="#e6ffff" stroke="#00ffff" stroke-width="1"/>
<rect x="174" y="222.1" width="4" height="4" fill="#e6ffff" stroke="#00ffff" stroke-width="1"/>
<rect x="180.5" y="244.3" width="4" height="4" fill="#e6ffff" stroke="#00ffff" stroke-width="1"/>
<rect x="187.1" y="234.4" width="4" height="4" fill="#e6ffff" stroke="#00ffff" stroke-width="1"/>
<rect x="193.6" y="230.4" width="4" height="4" fill="#e6ffff" stroke="#00ffff" stroke-width="1"/>
<rect x="200.1" y="106.5" width="4" height="4" fill="#e6ffff" stroke="#00ffff" stroke-width="1"/>
<rect x="206.7" y="331.4" width="4" height="4" fill="#e6ffff" stroke="#00ffff" stroke-width="1"/>
<rect x="213.2" y="320.5" width="4" height="4" fill="#e6ffff" stroke="#00ffff" stroke-width="1"/>
<rect x="219.7" y="316.7" width="4" height="4" fill="#e6ffff" stroke="#00ffff" stroke-width="1"/>
<rect x="226.3" y="297.5" width="4" height="4" fill="#e6ffff" stroke="#00ffff" stroke-width="1"/>
<rect x="232.8" y="299.2" width="4" height="4" fill="#e6ffff" stroke="#00ffff" stroke-width="1"/>
<rect x="239.3" y="227.4" width="4" height="4" fill="#e6ffff" stroke="#00ffff" stroke-width="1"/>
<rect x="245.9" y="239.4" width="4" height="4" fill="#e6ffff" stroke="#00ffff" stroke-width="1"/>
<rect x="252.4" y="241.5" width="4" height="4" fill="#e6ffff" stroke="#00ffff" stroke-width="1"/>
<rect x="258.9" y="215.6" width="4" height="4" fill="#e6ffff" stroke="#00ffff" stroke-width="1"/>
<rect x="265.5" y="216.4" width="4" height="4" fill="#e6ffff" stroke="#00ffff" stroke-width="1"/>
<rect x="272" y="242.6" width="4" height="4" fill="#e6ffff" stroke="#00ffff" stroke-width="1"/>
<rect x="278.5" y="190.1" width="4" height="4" fill="#e6ffff" stroke="#00ffff" stroke-width="1"/>
<rect x="285.1" y="341" width="4" height="4" fill="#e6ffff" stroke="#00ffff" stroke-width="1"/>
<rect x="291.6" y="255.7" width="4" height="4" fill="#e6ffff" stroke="#00ffff" stroke-width="1"/>
<rect x="298.1" y="352.4" width="4" height="4" fill="#e6ffff" stroke="#00ffff" stroke-width="1"/>
<rect x="304.7" y="339.3" width="4" height="4" fill="#e6ffff" stroke="#00ffff" stroke-width="1"/>
<rect x="311.2" y="320.8" width="4" height="4" fill="#e6ffff" stroke="#00ffff" stroke-width="1"/>
<rect x="317.7" y="290.1" width="4" height="4" fill="#e6ffff" stroke="#00ffff" stroke-width="1"/>
<rect x="324.3" y="302.7" width="4" height="4" fill="#e6ffff" stroke="#00ffff" stroke-width="1"/>
<rect x="330.8" y="296.7" width="4" height="4" fill="#e6ffff" stroke="#00ffff" stroke-width="1"/>
<rect x="337.3" y="293.9" width="4" height="4" fill="#e6ffff" stroke="#00ffff" stroke-width="1"/>
<rect x="343.9" y="312.3" width="4" height="4" fill="#e6ffff" stroke="#00ffff" stroke-width="1"/>
<rect x="350.4" y="305.7" width="4" height="4" fill="#e6ffff" stroke="#00ffff" stroke-width="1"/>
<rect x="356.9" y="277.5" width="4" height="4" fill="#e6ffff" stroke="#00ffff" stroke-width="1"/>
<rect x="363.5" y="284.4" width="4" height="4" fill="#e6ffff" stroke="#00ffff" stroke-width="1"/>
<rect x="370" y="302.4" width="4" height="4" fill="#e6ffff" stroke="#00ffff" stroke-width="1"/>
<rect x="376.5" y="206.6" width="4" height="4" fill="#e6ffff" stroke="#00ffff" stroke-width="1"/>
<rect x="383.1" y="309.8" width="4" height="4" fill="#e6ffff" stroke="#00ffff" stroke-width="1"/>
<rect x="389.6" y="313.1" width="4" height="4" fill="#e6ffff" stroke="#00ffff" stroke-width="1"/>
<rect x="396.1" y="296.7" width="4" height="4" fill="#e6ffff" stroke="#00ffff" stroke-width="1"/>
<rect x="402.7" y="284.4" width="4" height="4" fill="#e6ffff" stroke="#00ffff" stroke-width="1"/>
<rect x="409.2" y="283.6" width="4" height="4" fill="#e6ffff" stroke="#00ffff" stroke-width="1"/>
<rect x="415.7" y="268.8" width="4" height="4" fill="#e6ffff" stroke="#00ffff" stroke-width="1"/>
<rect x="422.2" y="127.4" width="4" height="4" fill="#e6ffff" stroke="#00ffff" stroke-width="1"/>
<rect x="428.8" y="264.8" width="4" height="4" fill="#e6ffff" stroke="#00ffff" stroke-width="1"/>
<rect x="435.3" y="287.7" width="4" height="4" fill="#e6ffff" stroke="#00ffff" stroke-width="1"/>
<rect x="441.8" y="370.7" width="4" height="4" fill="#e6ffff" stroke="#00ffff" stroke-width="1"/>
<rect x="448.4" y="411" width="4" height="4" fill="#e6ffff" stroke="#00ffff" stroke-width="1"/>
<rect x="454.9" y="352.4" width="4" height="4" fill="#e6ffff" stroke="#00ffff" stroke-width="1"/>
<rect x="461.4" y="300" width="4" height="4" fill="#e6ffff" stroke="#00ffff" stroke-width="1"/>
<rect x="468" y="299.2" width="4" height="4" fill="#e6ffff" stroke="#00ffff" stroke-width="1"/>
<rect x="474.5" y="288.5" width="4" height="4" fill="#e6ffff" stroke="#00ffff" stroke-width="1"/>
<rect x="487.6" y="279.4" width="4" height="4" fill="#e6ffff" stroke="#00ffff" stroke-width="1"/>
<rect x="500.6" y="309.3" width="4" height="4" fill="#e6ffff" stroke="#00ffff" stroke-width="1"/>
<rect x="507.2" y="298.3" width="4" height="4" fill="#e6ffff" stroke="#00ffff" stroke-width="1"/>
<rect x="513.7" y="283.6" width="4" height="4" fill="#e6ffff" stroke="#00ffff" stroke-width="1"/>
<rect x="520.2" y="327" width="4" height="4" fill="#e6ffff" stroke="#00ffff" stroke-width="1"/>
<rect x="526.8" y="343.4" width="4" height="4" fill="#e6ffff" stroke="#00ffff" stroke-width="1"/>
<rect x="533.3" y="477.2" width="4" height="4" fill="#e6ffff" stroke="#00ffff" stroke-width="1"/>
<rect x="539.8" y="288.5" width="4" height="4" fill="#e6ffff" stroke="#00ffff" stroke-width="1"/>
<rect x="546.4" y="226.2" width="4" height="4" fill="#e6ffff" stroke="#00ffff" stroke-width="1"/>
<rect x="552.9" y="270" width="4" height="4" fill="#e6ffff" stroke="#00ffff" stroke-width="1"/>
<rect x="559.4" y="292.6" width="4" height="4" fill="#e6ffff" stroke="#00ffff" stroke-width="1"/>
<rect x="566" y="192.6" width="4" height="4" fill="#e6ffff" stroke="#00ffff" stroke-width="1"/>
<rect x="572.5" y="248.3" width="4" height="4" fill="#e6ffff" stroke="#00ffff" stroke-width="1"/>
<rect x="579" y="239.4" width="4" height="4" fill="#e6ffff" stroke="#00ffff" stroke-width="1"/>
<rect x="585.6" y="289.3" width="4" height="4" fill="#e6ffff" stroke="#00ffff" stroke-width="1"/>
<rect x="592.1" y="329.9" width="4" height="4" fill="#e6ffff" stroke="#00ffff" stroke-width="1"/>
<rect x="598.6" y="279.4" width="4" height="4" fill="#e6ffff" stroke="#00ffff" stroke-width="1"/>
<rect x="605.2" y="300.8" width="4" height="4" fill="#e6ffff" stroke="#00ffff" stroke-width="1"/>
<rect x="618.2" y="290.1" width="4" height="4" fill="#e6ffff" stroke="#00ffff" stroke-width="1"/>
<rect x="624.8" y="334.4" width="4" height="4" fill="#e6ffff" stroke="#00ffff" stroke-width="1"/>
<rect x="631.3" y="316.3" width="4" height="4" fill="#e6ffff" stroke="#00ffff" stroke-width="1"/>
<rect x="637.8" y="315.5" width="4" height="4" fill="#e6ffff" stroke="#00ffff" stroke-width="1"/>
<rect x="644.4" y="316.3" width="4" height="4" fill="#e6ffff" stroke="#00ffff" stroke-width="1"/>
<rect x="650.9" y="309.8" width="4" height="4" fill="#e6ffff" stroke="#00ffff" stroke-width="1"/>
<rect x="657.4" y="298.3" width="4" height="4" fill="#e6ffff" stroke="#00ffff" stroke-width="1"/>
<rect x="664" y="312.3" width="4" height="4" fill="#e6ffff" stroke="#00ffff" stroke-width="1"/>
<rect x="670.5" y="480.3" width="4" height="4" fill="#e6ffff" stroke="#00ffff" stroke-width="1"/>
<rect x="677" y="244.3" width="4" height="4" fill="#e6ffff" stroke="#00ffff" stroke-width="1"/>
<rect x="683.6" y="272.6" width="4" height="4" fill="#e6ffff" stroke="#00ffff" stroke-width="1"/>
<rect x="696.6" y="263.5" width="4" height="4" fill="#e6ffff" stroke="#00ffff" stroke-width="1"/>
<rect x="703.2" y="279.4" width="4" height="4" fill="#e6ffff" stroke="#00ffff" stroke-width="1"/>
<rect x="709.7" y="234.4" width="4" height="4" fill="#e6ffff" stroke="#00ffff" stroke-width="1"/>
<rect x="716.2" y="293.4" width="4" height="4" fill="#e6ffff" stroke="#00ffff" stroke-width="1"/>
<rect x="722.8" y="298.3" width="4" height="4" fill="#e6ffff" stroke="#00ffff" stroke-width="1"/>
<rect x="735.8" y="277.9" width="4" height="4" fill="#e6ffff" stroke="#00ffff" stroke-width="1"/>
<rect x="742.4" y="307" width="4" height="4" fill="#e6ffff" stroke="#00ffff" stroke-width="1"/>
<rect x="748.9" y="288.5" width="4" height="4" fill="#e6ffff" stroke="#00ffff" stroke-width="1"/>
<rect x="755.4" y="320.5" width="4" height="4" fill="#e6ffff" stroke="#00ffff" stroke-width="1"/>
<rect x="762" y="294.2" width="4" height="4" fill="#e6ffff" stroke="#00ffff" stroke-width="1"/>
<rect x="768.5" y="310.6" width="4" height="4" fill="#e6ffff" stroke="#00ffff" stroke-width="1"/>
<rect x="775" y="307.4" width="4" height="4" fill="#e6ffff" stroke="#00ffff" stroke-width="1"/>
<rect x="781.6" y="298.3" width="4" height="4" fill="#e6ffff" stroke="#00ffff" stroke-width="1"/>
<rect x="788.1" y="325.4" width="4" height="4" fill="#e6ffff" stroke="#00ffff" stroke-width="1"/>
<rect x="794.6" y="290.1" width="4" height="4" fill="#e6ffff" stroke="#00ffff" stroke-width="1"/>
<rect x="801.2" y="302.4" width="4" height="4" fill="#e6ffff" stroke="#00ffff" stroke-width="1"/>
<rect x="807.7" y="291" width="4" height="4" fill="#e6ffff" stroke="#00ffff" stroke-width="1"/>
<rect x="814.2" y="288.5" width="4" height="4" fill="#e6ffff" stroke="#00ffff" stroke-width="1"/>
<rect x="820.8" y="288.5" width="4" height="4" fill="#e6ffff" stroke="#00ffff" stroke-width="1"/>
<rect x="827.3" y="290.1" width="4" height="4" fill="#e6ffff" stroke="#00ffff" stroke-width="1"/>
<rect x="833.8" y="291" width="4" height="4" fill="#e6ffff" stroke="#00ffff" stroke-width="1"/>
<rect x="840.4" y="303.2" width="4" height="4" fill="#e6ffff" stroke="#00ffff" stroke-width="1"/>
<rect x="846.9" y="262.3" width="4" height="4" fill="#e6ffff" stroke="#00ffff" stroke-width="1"/>
<rect x="853.4" y="329.5" width="4" height="4" fill="#e6ffff" stroke="#00ffff" stroke-width="1"/>
<rect x="860" y="336.9" width="4" height="4" fill="#e6ffff" stroke="#00ffff" stroke-width="1"/>
<rect x="866.5" y="303.2" width="4" height="4" fill="#e6ffff" stroke="#00ffff" stroke-width="1"/>
<rect x="873" y="285.2" width="4" height="4" fill="#e6ffff" stroke="#00ffff" stroke-width="1"/>
</g>
<g clip-path="url(#cp)">
<path d="M78.0 212.7L84.5 204.5L91.1 213.0L97.6 195.3L104.1 200.9L110.7 197.1L117.2 202.5L123.7 207.4L130.3 220.8L136.8 197.1L143.3 180.6L149.9 201.2L156.4 211.9L162.9 211.4L169.5 217.6L176.0 197.9L182.5 211.4L189.1 209.7L195.6 215.9M208.7 305.7L215.2 320.8L221.7 308.5L228.3 304.4L234.8 305.2L241.3 200.9L247.9 208.1M260.9 177.0L267.5 177.8L274.0 224.5L280.5 167.9L287.1 351.2L293.6 225.0L300.1 373.3L306.7 355.2L313.2 327.4L319.7 283.1L326.3 310.1L332.8 304.1L339.3 294.6L345.9 314.3L352.4 317.5L358.9 285.6L365.5 300.3L372.0 323.3L378.5 215.9L385.1 319.2L391.6 330.4L398.1 307.7L404.7 293.8L411.2 309.4L417.7 284.4M430.8 263.5L437.3 294.6L443.8 409.3L450.4 455.6L456.9 338.9L463.4 297.0L470.0 301.2L476.5 310.1M489.6 283.1L496.1 -15.9L502.6 295.4L509.2 309.1L515.7 279.0M528.8 354.0L535.3 492.0L541.8 295.4L548.4 247.1L554.9 292.1L561.4 300.3L568.0 202.0L574.5 261.5L581.0 261.9L587.6 296.2L594.1 340.5L600.6 299.5L607.2 312.9L613.7 43.3L620.2 300.3L626.8 331.5L633.3 324.9L639.8 317.5L646.4 303.6L652.9 314.3L659.4 303.6L666.0 315.1L672.5 498.2L679.0 264.3L685.6 289.7L692.1 849.1L698.6 281.4L705.2 286.4L711.7 248.4L718.2 297.0L724.8 317.5L731.3 -251.2L737.8 277.4L744.4 311.8L750.9 296.2L757.4 326.5L764.0 300.3L770.5 308.0L777.0 311.0L783.6 304.4L790.1 322.5L796.6 298.7L803.2 308.0L809.7 297.0L816.2 271.3L822.8 294.6L829.3 302.8L835.8 277.4L842.4 315.9L848.9 277.4L855.4 324.9L862.0 338.1L868.5 312.6L875.0 302.8" fill="none" stroke="#800080" stroke-width="1" stroke-linejoin="round" shape-rendering="crispEdges"/>
</g><g>
<path d="M74.7 209.4L81.3 216M81.3 209.4L74.7 216M78 208.5V216.9" stroke="#800080" stroke-width="1" fill="none" shape-rendering="crispEdges"/>
<path d="M81.2 201.2L87.8 207.8M87.8 201.2L81.2 207.8M84.5 200.3V208.7" stroke="#800080" stroke-width="1" fill="none" shape-rendering="crispEdges"/>
<path d="M87.8 209.7L94.4 216.3M94.4 209.7L87.8 216.3M91.1 208.8V217.2" stroke="#800080" stroke-width="1" fill="none" shape-rendering="crispEdges"/>
<path d="M94.3 192L100.9 198.6M100.9 192L94.3 198.6M97.6 191.1V199.5" stroke="#800080" stroke-width="1" fill="none" shape-rendering="crispEdges"/>
<path d="M100.8 197.6L107.4 204.2M107.4 197.6L100.8 204.2M104.1 196.7V205.1" stroke="#800080" stroke-width="1" fill="none" shape-rendering="crispEdges"/>
<path d="M107.4 193.8L114 200.4M114 193.8L107.4 200.4M110.7 192.9V201.3" stroke="#800080" stroke-width="1" fill="none" shape-rendering="crispEdges"/>
<path d="M113.9 199.2L120.5 205.8M120.5 199.2L113.9 205.8M117.2 198.3V206.7" stroke="#800080" stroke-width="1" fill="none" shape-rendering="crispEdges"/>
<path d="M120.4 204.1L127 210.7M127 204.1L120.4 210.7M123.7 203.2V211.6" stroke="#800080" stroke-width="1" fill="none" shape-rendering="crispEdges"/>
<path d="M127 217.5L133.6 224.1M133.6 217.5L127 224.1M130.3 216.6V225" stroke="#800080" stroke-width="1" fill="none" shape-rendering="crispEdges"/>
<path d="M133.5 193.8L140.1 200.4M140.1 193.8L133.5 200.4M136.8 192.9V201.3" stroke="#800080" stroke-width="1" fill="none" shape-rendering="crispEdges"/>
<path d="M140 177.3L146.6 183.9M146.6 177.3L140 183.9M143.3 176.4V184.8" stroke="#800080" stroke-width="1" fill="none" shape-rendering="crispEdges"/>
<path d="M146.6 197.9L153.2 204.5M153.2 197.9L146.6 204.5M149.9 197V205.4" stroke="#800080" stroke-width="1" fill="none" shape-rendering="crispEdges"/>
<path d="M153.1 208.6L159.7 215.2M159.7 208.6L153.1 215.2M156.4 207.7V216.1" stroke="#800080" stroke-width="1" fill="none" shape-rendering="crispEdges"/>
<path d="M159.6 208.1L166.2 214.7M166.2 208.1L159.6 214.7M162.9 207.2V215.6" stroke="#800080" stroke-width="1" fill="none" shape-rendering="crispEdges"/>
<path d="M166.2 214.3L172.8 220.9M172.8 214.3L166.2 220.9M169.5 213.4V221.8" stroke="#800080" stroke-width="1" fill="none" shape-rendering="crispEdges"/>
<path d="M172.7 194.6L179.3 201.2M179.3 194.6L172.7 201.2M176 193.7V202.1" stroke="#800080" stroke-width="1" fill="none" shape-rendering="crispEdges"/>
<path d="M179.2 208.1L185.8 214.7M185.8 208.1L179.2 214.7M182.5 207.2V215.6" stroke="#800080" stroke-width="1" fill="none" shape-rendering="crispEdges"/>
<path d="M185.8 206.4L192.4 213M192.4 206.4L185.8 213M189.1 205.5V213.9" stroke="#800080" stroke-width="1" fill="none" shape-rendering="crispEdges"/>
<path d="M192.3 212.6L198.9 219.2M198.9 212.6L192.3 219.2M195.6 211.7V220.1" stroke="#800080" stroke-width="1" fill="none" shape-rendering="crispEdges"/>
<path d="M205.4 302.4L212 309M212 302.4L205.4 309M208.7 301.5V309.9" stroke="#800080" stroke-width="1" fill="none" shape-rendering="crispEdges"/>
<path d="M211.9 317.5L218.5 324.1M218.5 317.5L211.9 324.1M215.2 316.6V325" stroke="#800080" stroke-width="1" fill="none" shape-rendering="crispEdges"/>
<path d="M218.4 305.2L225 311.8M225 305.2L218.4 311.8M221.7 304.3V312.7" stroke="#800080" stroke-width="1" fill="none" shape-rendering="crispEdges"/>
<path d="M225 301.1L231.6 307.7M231.6 301.1L225 307.7M228.3 300.2V308.6" stroke="#800080" stroke-width="1" fill="none" shape-rendering="crispEdges"/>
<path d="M231.5 301.9L238.1 308.5M238.1 301.9L231.5 308.5M234.8 301V309.4" stroke="#800080" stroke-width="1" fill="none" shape-rendering="crispEdges"/>
<path d="M238 197.6L244.6 204.2M244.6 197.6L238 204.2M241.3 196.7V205.1" stroke="#800080" stroke-width="1" fill="none" shape-rendering="crispEdges"/>
<path d="M244.6 204.8L251.2 211.4M251.2 204.8L244.6 211.4M247.9 203.9V212.3" stroke="#800080" stroke-width="1" fill="none" shape-rendering="crispEdges"/>
<path d="M257.6 173.7L264.2 180.3M264.2 173.7L257.6 180.3M260.9 172.8V181.2" stroke="#800080" stroke-width="1" fill="none" shape-rendering="crispEdges"/>
<path d="M264.2 174.5L270.8 181.1M270.8 174.5L264.2 181.1M267.5 173.6V182" stroke="#800080" stroke-width="1" fill="none" shape-rendering="crispEdges"/>
<path d="M270.7 221.2L277.3 227.8M277.3 221.2L270.7 227.8M274 220.3V228.7" stroke="#800080" stroke-width="1" fill="none" shape-rendering="crispEdges"/>
<path d="M277.2 164.6L283.8 171.2M283.8 164.6L277.2 171.2M280.5 163.7V172.1" stroke="#800080" stroke-width="1" fill="none" shape-rendering="crispEdges"/>
<path d="M283.8 347.9L290.4 354.5M290.4 347.9L283.8 354.5M287.1 347V355.4" stroke="#800080" stroke-width="1" fill="none" shape-rendering="crispEdges"/>
<path d="M290.3 221.7L296.9 228.3M296.9 221.7L290.3 228.3M293.6 220.8V229.2" stroke="#800080" stroke-width="1" fill="none" shape-rendering="crispEdges"/>
<path d="M296.8 370L303.4 376.6M303.4 370L296.8 376.6M300.1 369.1V377.5" stroke="#800080" stroke-width="1" fill="none" shape-rendering="crispEdges"/>
<path d="M303.4 351.9L310 358.5M310 351.9L303.4 358.5M306.7 351V359.4" stroke="#800080" stroke-width="1" fill="none" shape-rendering="crispEdges"/>
<path d="M309.9 324.1L316.5 330.7M316.5 324.1L309.9 330.7M313.2 323.2V331.6" stroke="#800080" stroke-width="1" fill="none" shape-rendering="crispEdges"/>
<path d="M316.4 279.8L323 286.4M323 279.8L316.4 286.4M319.7 278.9V287.3" stroke="#800080" stroke-width="1" fill="none" shape-rendering="crispEdges"/>
<path d="M323 306.8L329.6 313.4M329.6 306.8L323 313.4M326.3 305.9V314.3" stroke="#800080" stroke-width="1" fill="none" shape-rendering="crispEdges"/>
<path d="M329.5 300.8L336.1 307.4M336.1 300.8L329.5 307.4M332.8 299.9V308.3" stroke="#800080" stroke-width="1" fill="none" shape-rendering="crispEdges"/>
<path d="M336 291.3L342.6 297.9M342.6 291.3L336 297.9M339.3 290.4V298.8" stroke="#800080" stroke-width="1" fill="none" shape-rendering="crispEdges"/>
<path d="M342.6 311L349.2 317.6M349.2 311L342.6 317.6M345.9 310.1V318.5" stroke="#800080" stroke-width="1" fill="none" shape-rendering="crispEdges"/>
<path d="M349.1 314.2L355.7 320.8M355.7 314.2L349.1 320.8M352.4 313.3V321.7" stroke="#800080" stroke-width="1" fill="none" shape-rendering="crispEdges"/>
<path d="M355.6 282.3L362.2 288.9M362.2 282.3L355.6 288.9M358.9 281.4V289.8" stroke="#800080" stroke-width="1" fill="none" shape-rendering="crispEdges"/>
<path d="M362.2 297L368.8 303.6M368.8 297L362.2 303.6M365.5 296.1V304.5" stroke="#800080" stroke-width="1" fill="none" shape-rendering="crispEdges"/>
<path d="M368.7 320L375.3 326.6M375.3 320L368.7 326.6M372 319.1V327.5" stroke="#800080" stroke-width="1" fill="none" shape-rendering="crispEdges"/>
<path d="M375.2 212.6L381.8 219.2M381.8 212.6L375.2 219.2M378.5 211.7V220.1" stroke="#800080" stroke-width="1" fill="none" shape-rendering="crispEdges"/>
<path d="M381.8 315.9L388.4 322.5M388.4 315.9L381.8 322.5M385.1 315V323.4" stroke="#800080" stroke-width="1" fill="none" shape-rendering="crispEdges"/>
<path d="M388.3 327.1L394.9 333.7M394.9 327.1L388.3 333.7M391.6 326.2V334.6" stroke="#800080" stroke-width="1" fill="none" shape-rendering="crispEdges"/>
<path d="M394.8 304.4L401.4 311M401.4 304.4L394.8 311M398.1 303.5V311.9" stroke="#800080" stroke-width="1" fill="none" shape-rendering="crispEdges"/>
<path d="M401.4 290.5L408 297.1M408 290.5L401.4 297.1M404.7 289.6V298" stroke="#800080" stroke-width="1" fill="none" shape-rendering="crispEdges"/>
<path d="M407.9 306.1L414.5 312.7M414.5 306.1L407.9 312.7M411.2 305.2V313.6" stroke="#800080" stroke-width="1" fill="none" shape-rendering="crispEdges"/>
<path d="M414.4 281.1L421 287.7M421 281.1L414.4 287.7M417.7 280.2V288.6" stroke="#800080" stroke-width="1" fill="none" shape-rendering="crispEdges"/>
<path d="M427.5 260.2L434.1 266.8M434.1 260.2L427.5 266.8M430.8 259.3V267.7" stroke="#800080" stroke-width="1" fill="none" shape-rendering="crispEdges"/>
<path d="M434 291.3L440.6 297.9M440.6 291.3L434 297.9M437.3 290.4V298.8" stroke="#800080" stroke-width="1" fill="none" shape-rendering="crispEdges"/>
<path d="M440.5 406L447.1 412.6M447.1 406L440.5 412.6M443.8 405.1V413.5" stroke="#800080" stroke-width="1" fill="none" shape-rendering="crispEdges"/>
<path d="M447.1 452.3L453.7 458.9M453.7 452.3L447.1 458.9M450.4 451.4V459.8" stroke="#800080" stroke-width="1" fill="none" shape-rendering="crispEdges"/>
<path d="M453.6 335.6L460.2 342.2M460.2 335.6L453.6 342.2M456.9 334.7V343.1" stroke="#800080" stroke-width="1" fill="none" shape-rendering="crispEdges"/>
<path d="M460.1 293.7L466.7 300.3M466.7 293.7L460.1 300.3M463.4 292.8V301.2" stroke="#800080" stroke-width="1" fill="none" shape-rendering="crispEdges"/>
<path d="M466.7 297.9L473.3 304.5M473.3 297.9L466.7 304.5M470 297V305.4" stroke="#800080" stroke-width="1" fill="none" shape-rendering="crispEdges"/>
<path d="M473.2 306.8L479.8 313.4M479.8 306.8L473.2 313.4M476.5 305.9V314.3" stroke="#800080" stroke-width="1" fill="none" shape-rendering="crispEdges"/>
<path d="M486.3 279.8L492.9 286.4M492.9 279.8L486.3 286.4M489.6 278.9V287.3" stroke="#800080" stroke-width="1" fill="none" shape-rendering="crispEdges"/>
<path d="M499.3 292.1L505.9 298.7M505.9 292.1L499.3 298.7M502.6 291.2V299.6" stroke="#800080" stroke-width="1" fill="none" shape-rendering="crispEdges"/>
<path d="M505.9 305.8L512.5 312.4M512.5 305.8L505.9 312.4M509.2 304.9V313.3" stroke="#800080" stroke-width="1" fill="none" shape-rendering="crispEdges"/>
<path d="M512.4 275.7L519 282.3M519 275.7L512.4 282.3M515.7 274.8V283.2" stroke="#800080" stroke-width="1" fill="none" shape-rendering="crispEdges"/>
<path d="M525.5 350.7L532.1 357.3M532.1 350.7L525.5 357.3M528.8 349.8V358.2" stroke="#800080" stroke-width="1" fill="none" shape-rendering="crispEdges"/>
<path d="M532 488.7L538.6 495.3M538.6 488.7L532 495.3M535.3 487.8V496.2" stroke="#800080" stroke-width="1" fill="none" shape-rendering="crispEdges"/>
<path d="M538.5 292.1L545.1 298.7M545.1 292.1L538.5 298.7M541.8 291.2V299.6" stroke="#800080" stroke-width="1" fill="none" shape-rendering="crispEdges"/>
<path d="M545.1 243.8L551.7 250.4M551.7 243.8L545.1 250.4M548.4 242.9V251.3" stroke="#800080" stroke-width="1" fill="none" shape-rendering="crispEdges"/>
<path d="M551.6 288.8L558.2 295.4M558.2 288.8L551.6 295.4M554.9 287.9V296.3" stroke="#800080" stroke-width="1" fill="none" shape-rendering="crispEdges"/>
<path d="M558.1 297L564.7 303.6M564.7 297L558.1 303.6M561.4 296.1V304.5" stroke="#800080" stroke-width="1" fill="none" shape-rendering="crispEdges"/>
<path d="M564.7 198.7L571.3 205.3M571.3 198.7L564.7 205.3M568 197.8V206.2" stroke="#800080" stroke-width="1" fill="none" shape-rendering="crispEdges"/>
<path d="M571.2 258.2L577.8 264.8M577.8 258.2L571.2 264.8M574.5 257.3V265.7" stroke="#800080" stroke-width="1" fill="none" shape-rendering="crispEdges"/>
<path d="M577.7 258.6L584.3 265.2M584.3 258.6L577.7 265.2M581 257.7V266.1" stroke="#800080" stroke-width="1" fill="none" shape-rendering="crispEdges"/>
<path d="M584.3 292.9L590.9 299.5M590.9 292.9L584.3 299.5M587.6 292V300.4" stroke="#800080" stroke-width="1" fill="none" shape-rendering="crispEdges"/>
<path d="M590.8 337.2L597.4 343.8M597.4 337.2L590.8 343.8M594.1 336.3V344.7" stroke="#800080" stroke-width="1" fill="none" shape-rendering="crispEdges"/>
<path d="M597.3 296.2L603.9 302.8M603.9 296.2L597.3 302.8M600.6 295.3V303.7" stroke="#800080" stroke-width="1" fill="none" shape-rendering="crispEdges"/>
<path d="M603.9 309.6L610.5 316.2M610.5 309.6L603.9 316.2M607.2 308.7V317.1" stroke="#800080" stroke-width="1" fill="none" shape-rendering="crispEdges"/>
<path d="M616.9 297L623.5 303.6M623.5 297L616.9 303.6M620.2 296.1V304.5" stroke="#800080" stroke-width="1" fill="none" shape-rendering="crispEdges"/>
<path d="M623.5 328.2L630.1 334.8M630.1 328.2L623.5 334.8M626.8 327.3V335.7" stroke="#800080" stroke-width="1" fill="none" shape-rendering="crispEdges"/>
<path d="M630 321.6L636.6 328.2M636.6 321.6L630 328.2M633.3 320.7V329.1" stroke="#800080" stroke-width="1" fill="none" shape-rendering="crispEdges"/>
<path d="M636.5 314.2L643.1 320.8M643.1 314.2L636.5 320.8M639.8 313.3V321.7" stroke="#800080" stroke-width="1" fill="none" shape-rendering="crispEdges"/>
<path d="M643.1 300.3L649.7 306.9M649.7 300.3L643.1 306.9M646.4 299.4V307.8" stroke="#800080" stroke-width="1" fill="none" shape-rendering="crispEdges"/>
<path d="M649.6 311L656.2 317.6M656.2 311L649.6 317.6M652.9 310.1V318.5" stroke="#800080" stroke-width="1" fill="none" shape-rendering="crispEdges"/>
<path d="M656.1 300.3L662.7 306.9M662.7 300.3L656.1 306.9M659.4 299.4V307.8" stroke="#800080" stroke-width="1" fill="none" shape-rendering="crispEdges"/>
<path d="M662.7 311.8L669.3 318.4M669.3 311.8L662.7 318.4M666 310.9V319.3" stroke="#800080" stroke-width="1" fill="none" shape-rendering="crispEdges"/>
<path d="M669.2 494.9L675.8 501.5M675.8 494.9L669.2 501.5M672.5 494V502.4" stroke="#800080" stroke-width="1" fill="none" shape-rendering="crispEdges"/>
<path d="M675.7 261L682.3 267.6M682.3 261L675.7 267.6M679 260.1V268.5" stroke="#800080" stroke-width="1" fill="none" shape-rendering="crispEdges"/>
<path d="M682.3 286.4L688.9 293M688.9 286.4L682.3 293M685.6 285.5V293.9" stroke="#800080" stroke-width="1" fill="none" shape-rendering="crispEdges"/>
<path d="M695.3 278.1L701.9 284.7M701.9 278.1L695.3 284.7M698.6 277.2V285.6" stroke="#800080" stroke-width="1" fill="none" shape-rendering="crispEdges"/>
<path d="M701.9 283.1L708.5 289.7M708.5 283.1L701.9 289.7M705.2 282.2V290.6" stroke="#800080" stroke-width="1" fill="none" shape-rendering="crispEdges"/>
<path d="M708.4 245.1L715 251.7M715 245.1L708.4 251.7M711.7 244.2V252.6" stroke="#800080" stroke-width="1" fill="none" shape-rendering="crispEdges"/>
<path d="M714.9 293.7L721.5 300.3M721.5 293.7L714.9 300.3M718.2 292.8V301.2" stroke="#800080" stroke-width="1" fill="none" shape-rendering="crispEdges"/>
<path d="M721.5 314.2L728.1 320.8M728.1 314.2L721.5 320.8M724.8 313.3V321.7" stroke="#800080" stroke-width="1" fill="none" shape-rendering="crispEdges"/>
<path d="M734.5 274.1L741.1 280.7M741.1 274.1L734.5 280.7M737.8 273.2V281.6" stroke="#800080" stroke-width="1" fill="none" shape-rendering="crispEdges"/>
<path d="M741.1 308.5L747.7 315.1M747.7 308.5L741.1 315.1M744.4 307.6V316" stroke="#800080" stroke-width="1" fill="none" shape-rendering="crispEdges"/>
<path d="M747.6 292.9L754.2 299.5M754.2 292.9L747.6 299.5M750.9 292V300.4" stroke="#800080" stroke-width="1" fill="none" shape-rendering="crispEdges"/>
<path d="M754.1 323.2L760.7 329.8M760.7 323.2L754.1 329.8M757.4 322.3V330.7" stroke="#800080" stroke-width="1" fill="none" shape-rendering="crispEdges"/>
<path d="M760.7 297L767.3 303.6M767.3 297L760.7 303.6M764 296.1V304.5" stroke="#800080" stroke-width="1" fill="none" shape-rendering="crispEdges"/>
<path d="M767.2 304.7L773.8 311.3M773.8 304.7L767.2 311.3M770.5 303.8V312.2" stroke="#800080" stroke-width="1" fill="none" shape-rendering="crispEdges"/>
<path d="M773.7 307.7L780.3 314.3M780.3 307.7L773.7 314.3M777 306.8V315.2" stroke="#800080" stroke-width="1" fill="none" shape-rendering="crispEdges"/>
<path d="M780.3 301.1L786.9 307.7M786.9 301.1L780.3 307.7M783.6 300.2V308.6" stroke="#800080" stroke-width="1" fill="none" shape-rendering="crispEdges"/>
<path d="M786.8 319.2L793.4 325.8M793.4 319.2L786.8 325.8M790.1 318.3V326.7" stroke="#800080" stroke-width="1" fill="none" shape-rendering="crispEdges"/>
<path d="M793.3 295.4L799.9 302M799.9 295.4L793.3 302M796.6 294.5V302.9" stroke="#800080" stroke-width="1" fill="none" shape-rendering="crispEdges"/>
<path d="M799.9 304.7L806.5 311.3M806.5 304.7L799.9 311.3M803.2 303.8V312.2" stroke="#800080" stroke-width="1" fill="none" shape-rendering="crispEdges"/>
<path d="M806.4 293.7L813 300.3M813 293.7L806.4 300.3M809.7 292.8V301.2" stroke="#800080" stroke-width="1" fill="none" shape-rendering="crispEdges"/>
<path d="M812.9 268L819.5 274.6M819.5 268L812.9 274.6M816.2 267.1V275.5" stroke="#800080" stroke-width="1" fill="none" shape-rendering="crispEdges"/>
<path d="M819.5 291.3L826.1 297.9M826.1 291.3L819.5 297.9M822.8 290.4V298.8" stroke="#800080" stroke-width="1" fill="none" shape-rendering="crispEdges"/>
<path d="M826 299.5L832.6 306.1M832.6 299.5L826 306.1M829.3 298.6V307" stroke="#800080" stroke-width="1" fill="none" shape-rendering="crispEdges"/>
<path d="M832.5 274.1L839.1 280.7M839.1 274.1L832.5 280.7M835.8 273.2V281.6" stroke="#800080" stroke-width="1" fill="none" shape-rendering="crispEdges"/>
<path d="M839.1 312.6L845.7 319.2M845.7 312.6L839.1 319.2M842.4 311.7V320.1" stroke="#800080" stroke-width="1" fill="none" shape-rendering="crispEdges"/>
<path d="M845.6 274.1L852.2 280.7M852.2 274.1L845.6 280.7M848.9 273.2V281.6" stroke="#800080" stroke-width="1" fill="none" shape-rendering="crispEdges"/>
<path d="M852.1 321.6L858.7 328.2M858.7 321.6L852.1 328.2M855.4 320.7V329.1" stroke="#800080" stroke-width="1" fill="none" shape-rendering="crispEdges"/>
<path d="M858.7 334.8L865.3 341.4M865.3 334.8L858.7 341.4M862 333.9V342.3" stroke="#800080" stroke-width="1" fill="none" shape-rendering="crispEdges"/>
<path d="M865.2 309.3L871.8 315.9M871.8 309.3L865.2 315.9M868.5 308.4V316.8" stroke="#800080" stroke-width="1" fill="none" shape-rendering="crispEdges"/>
<path d="M871.7 299.5L878.3 306.1M878.3 299.5L871.7 306.1M875 298.6V307" stroke="#800080" stroke-width="1" fill="none" shape-rendering="crispEdges"/>
</g>
<g clip-path="url(#cp)">
<path d="M78.0 104.8L84.5 123.8L91.1 136.6L97.6 181.5L104.1 206.9L110.7 238.6L117.2 133.8L123.7 200.4L130.3 283.0L136.8 308.9L143.3 139.6L149.9 149.7L156.4 222.5L162.9 305.9L169.5 314.9L176.0 127.6L182.5 158.6L189.1 127.6L195.6 162.5L202.1 212.7L208.7 174.9L215.2 104.5L221.7 219.6L228.3 133.7L234.8 117.5L241.3 149.9L247.9 286.4L254.4 244.6L260.9 273.6L267.5 308.9L274.0 293.0L280.5 117.5L287.1 295.9L293.6 251.7L300.1 266.8L306.7 219.6L313.2 216.8L319.7 168.8L326.3 171.7L332.8 177.8L339.3 174.9L345.9 314.6L352.4 111.4L358.9 96.6L365.5 101.9L372.0 162.5L378.5 181.5L385.1 255.0L391.6 270.9L398.1 301.2L404.7 127.8L411.2 120.4L417.7 168.8L424.2 152.7L430.8 139.6L437.3 114.7L443.8 127.8L450.4 181.5L456.9 193.4L463.4 299.2L470.0 95.8L476.5 174.9L483.0 146.6L489.6 114.7L496.1 139.6L502.6 181.5L509.2 317.5L515.7 111.4L522.2 203.7L528.8 266.8L535.3 301.5L541.8 120.4L548.4 143.7L554.9 156.0L561.4 168.8L568.0 146.6L574.5 136.8L581.0 139.6L587.6 117.5L594.1 317.9L600.6 114.7L607.2 114.7L613.7 133.8L620.2 177.8L626.8 197.6L633.3 203.7L639.8 108.5L646.4 317.9L652.9 111.4L659.4 146.6L666.0 181.5L672.5 216.8L679.0 139.6L685.6 136.8L692.1 143.7L698.6 133.8L705.2 136.8L711.7 188.1L718.2 156.0L724.8 200.4L731.3 171.7L737.8 181.9L744.4 168.8L750.9 184.8L757.4 276.9L764.0 130.3L770.5 165.8L777.0 200.4L783.6 184.8L790.1 194.3L796.6 174.9L803.2 188.1L809.7 188.1L816.2 299.2L822.8 101.9L829.3 136.8L835.8 123.7L842.4 108.5L848.9 123.7L855.4 190.1L862.0 279.5L868.5 317.9L875.0 127.8" fill="none" stroke="#ccffcc" stroke-width="1" stroke-linejoin="round" shape-rendering="crispEdges"/>
</g><g>
<path d="M78 101.7L80.6 103.8V107.4H75.4V103.8Z" fill="#ccccff" stroke="#ccffcc" stroke-width="0.9" stroke-linejoin="round"/>
<path d="M84.5 120.7L87.1 122.8V126.4H81.9V122.8Z" fill="#ccccff" stroke="#ccffcc" stroke-width="0.9" stroke-linejoin="round"/>
<path d="M91.1 133.5L93.7 135.6V139.2H88.5V135.6Z" fill="#ccccff" stroke="#ccffcc" stroke-width="0.9" stroke-linejoin="round"/>
<path d="M97.6 178.4L100.2 180.5V184.1H95V180.5Z" fill="#ccccff" stroke="#ccffcc" stroke-width="0.9" stroke-linejoin="round"/>
<path d="M104.1 203.8L106.7 205.9V209.5H101.5V205.9Z" fill="#ccccff" stroke="#ccffcc" stroke-width="0.9" stroke-linejoin="round"/>
<path d="M110.7 235.5L113.3 237.6V241.2H108.1V237.6Z" fill="#ccccff" stroke="#ccffcc" stroke-width="0.9" stroke-linejoin="round"/>
<path d="M117.2 130.7L119.8 132.8V136.4H114.6V132.8Z" fill="#ccccff" stroke="#ccffcc" stroke-width="0.9" stroke-linejoin="round"/>
<path d="M123.7 197.3L126.3 199.4V203H121.1V199.4Z" fill="#ccccff" stroke="#ccffcc" stroke-width="0.9" stroke-linejoin="round"/>
<path d="M130.3 279.9L132.9 282V285.6H127.7V282Z" fill="#ccccff" stroke="#ccffcc" stroke-width="0.9" stroke-linejoin="round"/>
<path d="M136.8 305.8L139.4 307.9V311.5H134.2V307.9Z" fill="#ccccff" stroke="#ccffcc" stroke-width="0.9" stroke-linejoin="round"/>
<path d="M143.3 136.5L145.9 138.6V142.2H140.7V138.6Z" fill="#ccccff" stroke="#ccffcc" stroke-width="0.9" stroke-linejoin="round"/>
<path d="M149.9 146.6L152.5 148.7V152.3H147.3V148.7Z" fill="#ccccff" stroke="#ccffcc" stroke-width="0.9" stroke-linejoin="round"/>
<path d="M156.4 219.4L159 221.5V225.1H153.8V221.5Z" fill="#ccccff" stroke="#ccffcc" stroke-width="0.9" stroke-linejoin="round"/>
<path d="M162.9 302.8L165.5 304.9V308.5H160.3V304.9Z" fill="#ccccff" stroke="#ccffcc" stroke-width="0.9" stroke-linejoin="round"/>
<path d="M169.5 311.8L172.1 313.9V317.5H166.9V313.9Z" fill="#ccccff" stroke="#ccffcc" stroke-width="0.9" stroke-linejoin="round"/>
<path d="M176 124.5L178.6 126.6V130.2H173.4V126.6Z" fill="#ccccff" stroke="#ccffcc" stroke-width="0.9" stroke-linejoin="round"/>
<path d="M182.5 155.5L185.1 157.6V161.2H179.9V157.6Z" fill="#ccccff" stroke="#ccffcc" stroke-width="0.9" stroke-linejoin="round"/>
<path d="M189.1 124.5L191.7 126.6V130.2H186.5V126.6Z" fill="#ccccff" stroke="#ccffcc" stroke-width="0.9" stroke-linejoin="round"/>
<path d="M195.6 159.4L198.2 161.5V165.1H193V161.5Z" fill="#ccccff" stroke="#ccffcc" stroke-width="0.9" stroke-linejoin="round"/>
<path d="M202.1 209.6L204.7 211.7V215.3H199.5V211.7Z" fill="#ccccff" stroke="#ccffcc" stroke-width="0.9" stroke-linejoin="round"/>
<path d="M208.7 171.8L211.3 173.9V177.5H206.1V173.9Z" fill="#ccccff" stroke="#ccffcc" stroke-width="0.9" stroke-linejoin="round"/>
<path d="M215.2 101.4L217.8 103.5V107.1H212.6V103.5Z" fill="#ccccff" stroke="#ccffcc" stroke-width="0.9" stroke-linejoin="round"/>
<path d="M221.7 216.5L224.3 218.6V222.2H219.1V218.6Z" fill="#ccccff" stroke="#ccffcc" stroke-width="0.9" stroke-linejoin="round"/>
<path d="M228.3 130.6L230.9 132.7V136.3H225.7V132.7Z" fill="#ccccff" stroke="#ccffcc" stroke-width="0.9" stroke-linejoin="round"/>
<path d="M234.8 114.4L237.4 116.5V120.1H232.2V116.5Z" fill="#ccccff" stroke="#ccffcc" stroke-width="0.9" stroke-linejoin="round"/>
<path d="M241.3 146.8L243.9 148.9V152.5H238.7V148.9Z" fill="#ccccff" stroke="#ccffcc" stroke-width="0.9" stroke-linejoin="round"/>
<path d="M247.9 283.3L250.5 285.4V289H245.3V285.4Z" fill="#ccccff" stroke="#ccffcc" stroke-width="0.9" stroke-linejoin="round"/>
<path d="M254.4 241.5L257 243.6V247.2H251.8V243.6Z" fill="#ccccff" stroke="#ccffcc" stroke-width="0.9" stroke-linejoin="round"/>
<path d="M260.9 270.5L263.5 272.6V276.2H258.3V272.6Z" fill="#ccccff" stroke="#ccffcc" stroke-width="0.9" stroke-linejoin="round"/>
<path d="M267.5 305.8L270.1 307.9V311.5H264.9V307.9Z" fill="#ccccff" stroke="#ccffcc" stroke-width="0.9" stroke-linejoin="round"/>
<path d="M274 289.9L276.6 292V295.6H271.4V292Z" fill="#ccccff" stroke="#ccffcc" stroke-width="0.9" stroke-linejoin="round"/>
<path d="M280.5 114.4L283.1 116.5V120.1H277.9V116.5Z" fill="#ccccff" stroke="#ccffcc" stroke-width="0.9" stroke-linejoin="round"/>
<path d="M287.1 292.8L289.7 294.9V298.5H284.5V294.9Z" fill="#ccccff" stroke="#ccffcc" stroke-width="0.9" stroke-linejoin="round"/>
<path d="M293.6 248.6L296.2 250.7V254.3H291V250.7Z" fill="#ccccff" stroke="#ccffcc" stroke-width="0.9" stroke-linejoin="round"/>
<path d="M300.1 263.7L302.7 265.8V269.4H297.5V265.8Z" fill="#ccccff" stroke="#ccffcc" stroke-width="0.9" stroke-linejoin="round"/>
<path d="M306.7 216.5L309.3 218.6V222.2H304.1V218.6Z" fill="#ccccff" stroke="#ccffcc" stroke-width="0.9" stroke-linejoin="round"/>
<path d="M313.2 213.7L315.8 215.8V219.4H310.6V215.8Z" fill="#ccccff" stroke="#ccffcc" stroke-width="0.9" stroke-linejoin="round"/>
<path d="M319.7 165.7L322.3 167.8V171.4H317.1V167.8Z" fill="#ccccff" stroke="#ccffcc" stroke-width="0.9" stroke-linejoin="round"/>
<path d="M326.3 168.6L328.9 170.7V174.3H323.7V170.7Z" fill="#ccccff" stroke="#ccffcc" stroke-width="0.9" stroke-linejoin="round"/>
<path d="M332.8 174.7L335.4 176.8V180.4H330.2V176.8Z" fill="#ccccff" stroke="#ccffcc" stroke-width="0.9" stroke-linejoin="round"/>
<path d="M339.3 171.8L341.9 173.9V177.5H336.7V173.9Z" fill="#ccccff" stroke="#ccffcc" stroke-width="0.9" stroke-linejoin="round"/>
<path d="M345.9 311.5L348.5 313.6V317.2H343.3V313.6Z" fill="#ccccff" stroke="#ccffcc" stroke-width="0.9" stroke-linejoin="round"/>
<path d="M352.4 108.3L355 110.4V114H349.8V110.4Z" fill="#ccccff" stroke="#ccffcc" stroke-width="0.9" stroke-linejoin="round"/>
<path d="M365.5 98.8L368.1 100.9V104.5H362.9V100.9Z" fill="#ccccff" stroke="#ccffcc" stroke-width="0.9" stroke-linejoin="round"/>
<path d="M372 159.4L374.6 161.5V165.1H369.4V161.5Z" fill="#ccccff" stroke="#ccffcc" stroke-width="0.9" stroke-linejoin="round"/>
<path d="M378.5 178.4L381.1 180.5V184.1H375.9V180.5Z" fill="#ccccff" stroke="#ccffcc" stroke-width="0.9" stroke-linejoin="round"/>
<path d="M385.1 251.9L387.7 254V257.6H382.5V254Z" fill="#ccccff" stroke="#ccffcc" stroke-width="0.9" stroke-linejoin="round"/>
<path d="M391.6 267.8L394.2 269.9V273.5H389V269.9Z" fill="#ccccff" stroke="#ccffcc" stroke-width="0.9" stroke-linejoin="round"/>
<path d="M398.1 298.1L400.7 300.2V303.8H395.5V300.2Z" fill="#ccccff" stroke="#ccffcc" stroke-width="0.9" stroke-linejoin="round"/>
<path d="M404.7 124.7L407.3 126.8V130.4H402.1V126.8Z" fill="#ccccff" stroke="#ccffcc" stroke-width="0.9" stroke-linejoin="round"/>
<path d="M411.2 117.3L413.8 119.4V123H408.6V119.4Z" fill="#ccccff" stroke="#ccffcc" stroke-width="0.9" stroke-linejoin="round"/>
<path d="M417.7 165.7L420.3 167.8V171.4H415.1V167.8Z" fill="#ccccff" stroke="#ccffcc" stroke-width="0.9" stroke-linejoin="round"/>
<path d="M424.2 149.6L426.8 151.7V155.3H421.6V151.7Z" fill="#ccccff" stroke="#ccffcc" stroke-width="0.9" stroke-linejoin="round"/>
<path d="M430.8 136.5L433.4 138.6V142.2H428.2V138.6Z" fill="#ccccff" stroke="#ccffcc" stroke-width="0.9" stroke-linejoin="round"/>
<path d="M437.3 111.6L439.9 113.7V117.3H434.7V113.7Z" fill="#ccccff" stroke="#ccffcc" stroke-width="0.9" stroke-linejoin="round"/>
<path d="M443.8 124.7L446.4 126.8V130.4H441.2V126.8Z" fill="#ccccff" stroke="#ccffcc" stroke-width="0.9" stroke-linejoin="round"/>
<path d="M450.4 178.4L453 180.5V184.1H447.8V180.5Z" fill="#ccccff" stroke="#ccffcc" stroke-width="0.9" stroke-linejoin="round"/>
<path d="M456.9 190.3L459.5 192.4V196H454.3V192.4Z" fill="#ccccff" stroke="#ccffcc" stroke-width="0.9" stroke-linejoin="round"/>
<path d="M463.4 296.1L466 298.2V301.8H460.8V298.2Z" fill="#ccccff" stroke="#ccffcc" stroke-width="0.9" stroke-linejoin="round"/>
<path d="M476.5 171.8L479.1 173.9V177.5H473.9V173.9Z" fill="#ccccff" stroke="#ccffcc" stroke-width="0.9" stroke-linejoin="round"/>
<path d="M483 143.5L485.6 145.6V149.2H480.4V145.6Z" fill="#ccccff" stroke="#ccffcc" stroke-width="0.9" stroke-linejoin="round"/>
<path d="M489.6 111.6L492.2 113.7V117.3H487V113.7Z" fill="#ccccff" stroke="#ccffcc" stroke-width="0.9" stroke-linejoin="round"/>
<path d="M496.1 136.5L498.7 138.6V142.2H493.5V138.6Z" fill="#ccccff" stroke="#ccffcc" stroke-width="0.9" stroke-linejoin="round"/>
<path d="M502.6 178.4L505.2 180.5V184.1H500V180.5Z" fill="#ccccff" stroke="#ccffcc" stroke-width="0.9" stroke-linejoin="round"/>
<path d="M509.2 314.4L511.8 316.5V320.1H506.6V316.5Z" fill="#ccccff" stroke="#ccffcc" stroke-width="0.9" stroke-linejoin="round"/>
<path d="M515.7 108.3L518.3 110.4V114H513.1V110.4Z" fill="#ccccff" stroke="#ccffcc" stroke-width="0.9" stroke-linejoin="round"/>
<path d="M522.2 200.6L524.8 202.7V206.3H519.6V202.7Z" fill="#ccccff" stroke="#ccffcc" stroke-width="0.9" stroke-linejoin="round"/>
<path d="M528.8 263.7L531.4 265.8V269.4H526.2V265.8Z" fill="#ccccff" stroke="#ccffcc" stroke-width="0.9" stroke-linejoin="round"/>
<path d="M535.3 298.4L537.9 300.5V304.1H532.7V300.5Z" fill="#ccccff" stroke="#ccffcc" stroke-width="0.9" stroke-linejoin="round"/>
<path d="M541.8 117.3L544.4 119.4V123H539.2V119.4Z" fill="#ccccff" stroke="#ccffcc" stroke-width="0.9" stroke-linejoin="round"/>
<path d="M548.4 140.6L551 142.7V146.3H545.8V142.7Z" fill="#ccccff" stroke="#ccffcc" stroke-width="0.9" stroke-linejoin="round"/>
<path d="M554.9 152.9L557.5 155V158.6H552.3V155Z" fill="#ccccff" stroke="#ccffcc" stroke-width="0.9" stroke-linejoin="round"/>
<path d="M561.4 165.7L564 167.8V171.4H558.8V167.8Z" fill="#ccccff" stroke="#ccffcc" stroke-width="0.9" stroke-linejoin="round"/>
<path d="M568 143.5L570.6 145.6V149.2H565.4V145.6Z" fill="#ccccff" stroke="#ccffcc" stroke-width="0.9" stroke-linejoin="round"/>
<path d="M574.5 133.7L577.1 135.8V139.4H571.9V135.8Z" fill="#ccccff" stroke="#ccffcc" stroke-width="0.9" stroke-linejoin="round"/>
<path d="M581 136.5L583.6 138.6V142.2H578.4V138.6Z" fill="#ccccff" stroke="#ccffcc" stroke-width="0.9" stroke-linejoin="round"/>
<path d="M587.6 114.4L590.2 116.5V120.1H585V116.5Z" fill="#ccccff" stroke="#ccffcc" stroke-width="0.9" stroke-linejoin="round"/>
<path d="M594.1 314.8L596.7 316.9V320.5H591.5V316.9Z" fill="#ccccff" stroke="#ccffcc" stroke-width="0.9" stroke-linejoin="round"/>
<path d="M600.6 111.6L603.2 113.7V117.3H598V113.7Z" fill="#ccccff" stroke="#ccffcc" stroke-width="0.9" stroke-linejoin="round"/>
<path d="M607.2 111.6L609.8 113.7V117.3H604.6V113.7Z" fill="#ccccff" stroke="#ccffcc" stroke-width="0.9" stroke-linejoin="round"/>
<path d="M613.7 130.7L616.3 132.8V136.4H611.1V132.8Z" fill="#ccccff" stroke="#ccffcc" stroke-width="0.9" stroke-linejoin="round"/>
<path d="M620.2 174.7L622.8 176.8V180.4H617.6V176.8Z" fill="#ccccff" stroke="#ccffcc" stroke-width="0.9" stroke-linejoin="round"/>
<path d="M626.8 194.5L629.4 196.6V200.2H624.2V196.6Z" fill="#ccccff" stroke="#ccffcc" stroke-width="0.9" stroke-linejoin="round"/>
<path d="M633.3 200.6L635.9 202.7V206.3H630.7V202.7Z" fill="#ccccff" stroke="#ccffcc" stroke-width="0.9" stroke-linejoin="round"/>
<path d="M639.8 105.4L642.4 107.5V111.1H637.2V107.5Z" fill="#ccccff" stroke="#ccffcc" stroke-width="0.9" stroke-linejoin="round"/>
<path d="M646.4 314.8L649 316.9V320.5H643.8V316.9Z" fill="#ccccff" stroke="#ccffcc" stroke-width="0.9" stroke-linejoin="round"/>
<path d="M652.9 108.3L655.5 110.4V114H650.3V110.4Z" fill="#ccccff" stroke="#ccffcc" stroke-width="0.9" stroke-linejoin="round"/>
<path d="M659.4 143.5L662 145.6V149.2H656.8V145.6Z" fill="#ccccff" stroke="#ccffcc" stroke-width="0.9" stroke-linejoin="round"/>
<path d="M666 178.4L668.6 180.5V184.1H663.4V180.5Z" fill="#ccccff" stroke="#ccffcc" stroke-width="0.9" stroke-linejoin="round"/>
<path d="M672.5 213.7L675.1 215.8V219.4H669.9V215.8Z" fill="#ccccff" stroke="#ccffcc" stroke-width="0.9" stroke-linejoin="round"/>
<path d="M679 136.5L681.6 138.6V142.2H676.4V138.6Z" fill="#ccccff" stroke="#ccffcc" stroke-width="0.9" stroke-linejoin="round"/>
<path d="M685.6 133.7L688.2 135.8V139.4H683V135.8Z" fill="#ccccff" stroke="#ccffcc" stroke-width="0.9" stroke-linejoin="round"/>
<path d="M692.1 140.6L694.7 142.7V146.3H689.5V142.7Z" fill="#ccccff" stroke="#ccffcc" stroke-width="0.9" stroke-linejoin="round"/>
<path d="M698.6 130.7L701.2 132.8V136.4H696V132.8Z" fill="#ccccff" stroke="#ccffcc" stroke-width="0.9" stroke-linejoin="round"/>
<path d="M705.2 133.7L707.8 135.8V139.4H702.6V135.8Z" fill="#ccccff" stroke="#ccffcc" stroke-width="0.9" stroke-linejoin="round"/>
<path d="M711.7 185L714.3 187.1V190.7H709.1V187.1Z" fill="#ccccff" stroke="#ccffcc" stroke-width="0.9" stroke-linejoin="round"/>
<path d="M718.2 152.9L720.8 155V158.6H715.6V155Z" fill="#ccccff" stroke="#ccffcc" stroke-width="0.9" stroke-linejoin="round"/>
<path d="M724.8 197.3L727.4 199.4V203H722.2V199.4Z" fill="#ccccff" stroke="#ccffcc" stroke-width="0.9" stroke-linejoin="round"/>
<path d="M731.3 168.6L733.9 170.7V174.3H728.7V170.7Z" fill="#ccccff" stroke="#ccffcc" stroke-width="0.9" stroke-linejoin="round"/>
<path d="M737.8 178.8L740.4 180.9V184.5H735.2V180.9Z" fill="#ccccff" stroke="#ccffcc" stroke-width="0.9" stroke-linejoin="round"/>
<path d="M744.4 165.7L747 167.8V171.4H741.8V167.8Z" fill="#ccccff" stroke="#ccffcc" stroke-width="0.9" stroke-linejoin="round"/>
<path d="M750.9 181.7L753.5 183.8V187.4H748.3V183.8Z" fill="#ccccff" stroke="#ccffcc" stroke-width="0.9" stroke-linejoin="round"/>
<path d="M757.4 273.8L760 275.9V279.5H754.8V275.9Z" fill="#ccccff" stroke="#ccffcc" stroke-width="0.9" stroke-linejoin="round"/>
<path d="M764 127.2L766.6 129.3V132.9H761.4V129.3Z" fill="#ccccff" stroke="#ccffcc" stroke-width="0.9" stroke-linejoin="round"/>
<path d="M770.5 162.7L773.1 164.8V168.4H767.9V164.8Z" fill="#ccccff" stroke="#ccffcc" stroke-width="0.9" stroke-linejoin="round"/>
<path d="M777 197.3L779.6 199.4V203H774.4V199.4Z" fill="#ccccff" stroke="#ccffcc" stroke-width="0.9" stroke-linejoin="round"/>
<path d="M783.6 181.7L786.2 183.8V187.4H781V183.8Z" fill="#ccccff" stroke="#ccffcc" stroke-width="0.9" stroke-linejoin="round"/>
<path d="M790.1 191.2L792.7 193.3V196.9H787.5V193.3Z" fill="#ccccff" stroke="#ccffcc" stroke-width="0.9" stroke-linejoin="round"/>
<path d="M796.6 171.8L799.2 173.9V177.5H794V173.9Z" fill="#ccccff" stroke="#ccffcc" stroke-width="0.9" stroke-linejoin="round"/>
<path d="M803.2 185L805.8 187.1V190.7H800.6V187.1Z" fill="#ccccff" stroke="#ccffcc" stroke-width="0.9" stroke-linejoin="round"/>
<path d="M809.7 185L812.3 187.1V190.7H807.1V187.1Z" fill="#ccccff" stroke="#ccffcc" stroke-width="0.9" stroke-linejoin="round"/>
<path d="M816.2 296.1L818.8 298.2V301.8H813.6V298.2Z" fill="#ccccff" stroke="#ccffcc" stroke-width="0.9" stroke-linejoin="round"/>
<path d="M822.8 98.8L825.4 100.9V104.5H820.2V100.9Z" fill="#ccccff" stroke="#ccffcc" stroke-width="0.9" stroke-linejoin="round"/>
<path d="M829.3 133.7L831.9 135.8V139.4H826.7V135.8Z" fill="#ccccff" stroke="#ccffcc" stroke-width="0.9" stroke-linejoin="round"/>
<path d="M835.8 120.6L838.4 122.7V126.3H833.2V122.7Z" fill="#ccccff" stroke="#ccffcc" stroke-width="0.9" stroke-linejoin="round"/>
<path d="M842.4 105.4L845 107.5V111.1H839.8V107.5Z" fill="#ccccff" stroke="#ccffcc" stroke-width="0.9" stroke-linejoin="round"/>
<path d="M848.9 120.6L851.5 122.7V126.3H846.3V122.7Z" fill="#ccccff" stroke="#ccffcc" stroke-width="0.9" stroke-linejoin="round"/>
<path d="M855.4 187L858 189.1V192.7H852.8V189.1Z" fill="#ccccff" stroke="#ccffcc" stroke-width="0.9" stroke-linejoin="round"/>
<path d="M862 276.4L864.6 278.5V282.1H859.4V278.5Z" fill="#ccccff" stroke="#ccffcc" stroke-width="0.9" stroke-linejoin="round"/>
<path d="M868.5 314.8L871.1 316.9V320.5H865.9V316.9Z" fill="#ccccff" stroke="#ccffcc" stroke-width="0.9" stroke-linejoin="round"/>
<path d="M875 124.7L877.6 126.8V130.4H872.4V126.8Z" fill="#ccccff" stroke="#ccffcc" stroke-width="0.9" stroke-linejoin="round"/>
</g>
<g clip-path="url(#cp)">
<path d="M84.5 186.4L91.1 186.4L97.6 186.4L104.1 186.4L110.7 186.4L117.2 186.4L123.7 186.4L130.3 186.4L136.8 186.4L143.3 186.4L149.9 186.4L156.4 186.4L162.9 186.4L169.5 186.4L176.0 186.4L182.5 186.4L189.1 186.4L195.6 186.4L202.1 186.4L208.7 186.4L215.2 186.4L221.7 186.4L228.3 186.4L234.8 186.4L241.3 186.4L247.9 186.4L254.4 186.4L260.9 186.4L267.5 186.4L274.0 186.4L280.5 186.4L287.1 186.4L293.6 136.8L300.1 186.4L306.7 186.4L313.2 154.6L319.7 186.4L326.3 154.6L332.8 154.6L339.3 154.6L345.9 154.6L352.4 154.6L358.9 154.6L365.5 154.6L372.0 154.6L378.5 154.6L385.1 186.4L391.6 186.4L398.1 186.4L404.7 186.4L411.2 186.4L417.7 186.4L424.2 186.4L430.8 186.4L437.3 186.4L443.8 186.4L450.4 186.4L456.9 186.4L463.4 186.4L470.0 186.4L476.5 186.4L483.0 186.4L489.6 186.4L496.1 186.4L502.6 186.4L509.2 186.4L515.7 186.4L522.2 186.4L528.8 154.6L535.3 136.8L541.8 154.6L548.4 154.6L554.9 154.6L561.4 154.6L568.0 154.6L574.5 154.6L581.0 154.6L587.6 154.6L594.1 154.6L600.6 154.6L607.2 154.6L613.7 154.6L620.2 154.6L626.8 154.6L633.3 154.6L639.8 154.6L646.4 154.6L652.9 154.6L659.4 154.6L666.0 154.6L672.5 154.6L679.0 154.6L685.6 154.6L692.1 154.6L698.6 154.6L705.2 154.6L711.7 154.6L718.2 154.6L724.8 154.6L731.3 154.6L737.8 154.6L744.4 154.6L750.9 154.6L757.4 154.6L764.0 154.6L770.5 154.6L777.0 154.6L783.6 154.6L790.1 154.6L796.6 154.6L803.2 154.6L809.7 154.6L816.2 154.6L822.8 154.6L829.3 154.6L835.8 154.6L842.4 154.6L848.9 154.6L855.4 154.6L862.0 154.6L868.5 154.6L875.0 154.6" fill="none" stroke="#008080" stroke-width="1.15" stroke-linejoin="round" shape-rendering="crispEdges"/>
</g><g>
<path d="M81.5 186.4H87.5M84.5 182.7V190.1" stroke="#008080" stroke-width="1" fill="none" shape-rendering="crispEdges"/>
<path d="M88.1 186.4H94.1M91.1 182.7V190.1" stroke="#008080" stroke-width="1" fill="none" shape-rendering="crispEdges"/>
<path d="M94.6 186.4H100.6M97.6 182.7V190.1" stroke="#008080" stroke-width="1" fill="none" shape-rendering="crispEdges"/>
<path d="M101.1 186.4H107.1M104.1 182.7V190.1" stroke="#008080" stroke-width="1" fill="none" shape-rendering="crispEdges"/>
<path d="M107.7 186.4H113.7M110.7 182.7V190.1" stroke="#008080" stroke-width="1" fill="none" shape-rendering="crispEdges"/>
<path d="M114.2 186.4H120.2M117.2 182.7V190.1" stroke="#008080" stroke-width="1" fill="none" shape-rendering="crispEdges"/>
<path d="M120.7 186.4H126.7M123.7 182.7V190.1" stroke="#008080" stroke-width="1" fill="none" shape-rendering="crispEdges"/>
<path d="M127.3 186.4H133.3M130.3 182.7V190.1" stroke="#008080" stroke-width="1" fill="none" shape-rendering="crispEdges"/>
<path d="M133.8 186.4H139.8M136.8 182.7V190.1" stroke="#008080" stroke-width="1" fill="none" shape-rendering="crispEdges"/>
<path d="M140.3 186.4H146.3M143.3 182.7V190.1" stroke="#008080" stroke-width="1" fill="none" shape-rendering="crispEdges"/>
<path d="M146.9 186.4H152.9M149.9 182.7V190.1" stroke="#008080" stroke-width="1" fill="none" shape-rendering="crispEdges"/>
<path d="M153.4 186.4H159.4M156.4 182.7V190.1" stroke="#008080" stroke-width="1" fill="none" shape-rendering="crispEdges"/>
<path d="M159.9 186.4H165.9M162.9 182.7V190.1" stroke="#008080" stroke-width="1" fill="none" shape-rendering="crispEdges"/>
<path d="M166.5 186.4H172.5M169.5 182.7V190.1" stroke="#008080" stroke-width="1" fill="none" shape-rendering="crispEdges"/>
<path d="M173 186.4H179M176 182.7V190.1" stroke="#008080" stroke-width="1" fill="none" shape-rendering="crispEdges"/>
<path d="M179.5 186.4H185.5M182.5 182.7V190.1" stroke="#008080" stroke-width="1" fill="none" shape-rendering="crispEdges"/>
<path d="M186.1 186.4H192.1M189.1 182.7V190.1" stroke="#008080" stroke-width="1" fill="none" shape-rendering="crispEdges"/>
<path d="M192.6 186.4H198.6M195.6 182.7V190.1" stroke="#008080" stroke-width="1" fill="none" shape-rendering="crispEdges"/>
<path d="M199.1 186.4H205.1M202.1 182.7V190.1" stroke="#008080" stroke-width="1" fill="none" shape-rendering="crispEdges"/>
<path d="M205.7 186.4H211.7M208.7 182.7V190.1" stroke="#008080" stroke-width="1" fill="none" shape-rendering="crispEdges"/>
<path d="M212.2 186.4H218.2M215.2 182.7V190.1" stroke="#008080" stroke-width="1" fill="none" shape-rendering="crispEdges"/>
<path d="M218.7 186.4H224.7M221.7 182.7V190.1" stroke="#008080" stroke-width="1" fill="none" shape-rendering="crispEdges"/>
<path d="M225.3 186.4H231.3M228.3 182.7V190.1" stroke="#008080" stroke-width="1" fill="none" shape-rendering="crispEdges"/>
<path d="M231.8 186.4H237.8M234.8 182.7V190.1" stroke="#008080" stroke-width="1" fill="none" shape-rendering="crispEdges"/>
<path d="M238.3 186.4H244.3M241.3 182.7V190.1" stroke="#008080" stroke-width="1" fill="none" shape-rendering="crispEdges"/>
<path d="M244.9 186.4H250.9M247.9 182.7V190.1" stroke="#008080" stroke-width="1" fill="none" shape-rendering="crispEdges"/>
<path d="M251.4 186.4H257.4M254.4 182.7V190.1" stroke="#008080" stroke-width="1" fill="none" shape-rendering="crispEdges"/>
<path d="M257.9 186.4H263.9M260.9 182.7V190.1" stroke="#008080" stroke-width="1" fill="none" shape-rendering="crispEdges"/>
<path d="M264.5 186.4H270.5M267.5 182.7V190.1" stroke="#008080" stroke-width="1" fill="none" shape-rendering="crispEdges"/>
<path d="M271 186.4H277M274 182.7V190.1" stroke="#008080" stroke-width="1" fill="none" shape-rendering="crispEdges"/>
<path d="M277.5 186.4H283.5M280.5 182.7V190.1" stroke="#008080" stroke-width="1" fill="none" shape-rendering="crispEdges"/>
<path d="M284.1 186.4H290.1M287.1 182.7V190.1" stroke="#008080" stroke-width="1" fill="none" shape-rendering="crispEdges"/>
<path d="M290.6 136.8H296.6M293.6 133.1V140.5" stroke="#008080" stroke-width="1" fill="none" shape-rendering="crispEdges"/>
<path d="M297.1 186.4H303.1M300.1 182.7V190.1" stroke="#008080" stroke-width="1" fill="none" shape-rendering="crispEdges"/>
<path d="M303.7 186.4H309.7M306.7 182.7V190.1" stroke="#008080" stroke-width="1" fill="none" shape-rendering="crispEdges"/>
<path d="M310.2 154.6H316.2M313.2 150.9V158.3" stroke="#008080" stroke-width="1" fill="none" shape-rendering="crispEdges"/>
<path d="M316.7 186.4H322.7M319.7 182.7V190.1" stroke="#008080" stroke-width="1" fill="none" shape-rendering="crispEdges"/>
<path d="M323.3 154.6H329.3M326.3 150.9V158.3" stroke="#008080" stroke-width="1" fill="none" shape-rendering="crispEdges"/>
<path d="M329.8 154.6H335.8M332.8 150.9V158.3" stroke="#008080" stroke-width="1" fill="none" shape-rendering="crispEdges"/>
<path d="M336.3 154.6H342.3M339.3 150.9V158.3" stroke="#008080" stroke-width="1" fill="none" shape-rendering="crispEdges"/>
<path d="M342.9 154.6H348.9M345.9 150.9V158.3" stroke="#008080" stroke-width="1" fill="none" shape-rendering="crispEdges"/>
<path d="M349.4 154.6H355.4M352.4 150.9V158.3" stroke="#008080" stroke-width="1" fill="none" shape-rendering="crispEdges"/>
<path d="M355.9 154.6H361.9M358.9 150.9V158.3" stroke="#008080" stroke-width="1" fill="none" shape-rendering="crispEdges"/>
<path d="M362.5 154.6H368.5M365.5 150.9V158.3" stroke="#008080" stroke-width="1" fill="none" shape-rendering="crispEdges"/>
<path d="M369 154.6H375M372 150.9V158.3" stroke="#008080" stroke-width="1" fill="none" shape-rendering="crispEdges"/>
<path d="M375.5 154.6H381.5M378.5 150.9V158.3" stroke="#008080" stroke-width="1" fill="none" shape-rendering="crispEdges"/>
<path d="M382.1 186.4H388.1M385.1 182.7V190.1" stroke="#008080" stroke-width="1" fill="none" shape-rendering="crispEdges"/>
<path d="M388.6 186.4H394.6M391.6 182.7V190.1" stroke="#008080" stroke-width="1" fill="none" shape-rendering="crispEdges"/>
<path d="M395.1 186.4H401.1M398.1 182.7V190.1" stroke="#008080" stroke-width="1" fill="none" shape-rendering="crispEdges"/>
<path d="M401.7 186.4H407.7M404.7 182.7V190.1" stroke="#008080" stroke-width="1" fill="none" shape-rendering="crispEdges"/>
<path d="M408.2 186.4H414.2M411.2 182.7V190.1" stroke="#008080" stroke-width="1" fill="none" shape-rendering="crispEdges"/>
<path d="M414.7 186.4H420.7M417.7 182.7V190.1" stroke="#008080" stroke-width="1" fill="none" shape-rendering="crispEdges"/>
<path d="M421.2 186.4H427.2M424.2 182.7V190.1" stroke="#008080" stroke-width="1" fill="none" shape-rendering="crispEdges"/>
<path d="M427.8 186.4H433.8M430.8 182.7V190.1" stroke="#008080" stroke-width="1" fill="none" shape-rendering="crispEdges"/>
<path d="M434.3 186.4H440.3M437.3 182.7V190.1" stroke="#008080" stroke-width="1" fill="none" shape-rendering="crispEdges"/>
<path d="M440.8 186.4H446.8M443.8 182.7V190.1" stroke="#008080" stroke-width="1" fill="none" shape-rendering="crispEdges"/>
<path d="M447.4 186.4H453.4M450.4 182.7V190.1" stroke="#008080" stroke-width="1" fill="none" shape-rendering="crispEdges"/>
<path d="M453.9 186.4H459.9M456.9 182.7V190.1" stroke="#008080" stroke-width="1" fill="none" shape-rendering="crispEdges"/>
<path d="M460.4 186.4H466.4M463.4 182.7V190.1" stroke="#008080" stroke-width="1" fill="none" shape-rendering="crispEdges"/>
<path d="M467 186.4H473M470 182.7V190.1" stroke="#008080" stroke-width="1" fill="none" shape-rendering="crispEdges"/>
<path d="M473.5 186.4H479.5M476.5 182.7V190.1" stroke="#008080" stroke-width="1" fill="none" shape-rendering="crispEdges"/>
<path d="M480 186.4H486M483 182.7V190.1" stroke="#008080" stroke-width="1" fill="none" shape-rendering="crispEdges"/>
<path d="M486.6 186.4H492.6M489.6 182.7V190.1" stroke="#008080" stroke-width="1" fill="none" shape-rendering="crispEdges"/>
<path d="M493.1 186.4H499.1M496.1 182.7V190.1" stroke="#008080" stroke-width="1" fill="none" shape-rendering="crispEdges"/>
<path d="M499.6 186.4H505.6M502.6 182.7V190.1" stroke="#008080" stroke-width="1" fill="none" shape-rendering="crispEdges"/>
<path d="M506.2 186.4H512.2M509.2 182.7V190.1" stroke="#008080" stroke-width="1" fill="none" shape-rendering="crispEdges"/>
<path d="M512.7 186.4H518.7M515.7 182.7V190.1" stroke="#008080" stroke-width="1" fill="none" shape-rendering="crispEdges"/>
<path d="M519.2 186.4H525.2M522.2 182.7V190.1" stroke="#008080" stroke-width="1" fill="none" shape-rendering="crispEdges"/>
<path d="M525.8 154.6H531.8M528.8 150.9V158.3" stroke="#008080" stroke-width="1" fill="none" shape-rendering="crispEdges"/>
<path d="M532.3 136.8H538.3M535.3 133.1V140.5" stroke="#008080" stroke-width="1" fill="none" shape-rendering="crispEdges"/>
<path d="M538.8 154.6H544.8M541.8 150.9V158.3" stroke="#008080" stroke-width="1" fill="none" shape-rendering="crispEdges"/>
<path d="M545.4 154.6H551.4M548.4 150.9V158.3" stroke="#008080" stroke-width="1" fill="none" shape-rendering="crispEdges"/>
<path d="M551.9 154.6H557.9M554.9 150.9V158.3" stroke="#008080" stroke-width="1" fill="none" shape-rendering="crispEdges"/>
<path d="M558.4 154.6H564.4M561.4 150.9V158.3" stroke="#008080" stroke-width="1" fill="none" shape-rendering="crispEdges"/>
<path d="M565 154.6H571M568 150.9V158.3" stroke="#008080" stroke-width="1" fill="none" shape-rendering="crispEdges"/>
<path d="M571.5 154.6H577.5M574.5 150.9V158.3" stroke="#008080" stroke-width="1" fill="none" shape-rendering="crispEdges"/>
<path d="M578 154.6H584M581 150.9V158.3" stroke="#008080" stroke-width="1" fill="none" shape-rendering="crispEdges"/>
<path d="M584.6 154.6H590.6M587.6 150.9V158.3" stroke="#008080" stroke-width="1" fill="none" shape-rendering="crispEdges"/>
<path d="M591.1 154.6H597.1M594.1 150.9V158.3" stroke="#008080" stroke-width="1" fill="none" shape-rendering="crispEdges"/>
<path d="M597.6 154.6H603.6M600.6 150.9V158.3" stroke="#008080" stroke-width="1" fill="none" shape-rendering="crispEdges"/>
<path d="M604.2 154.6H610.2M607.2 150.9V158.3" stroke="#008080" stroke-width="1" fill="none" shape-rendering="crispEdges"/>
<path d="M610.7 154.6H616.7M613.7 150.9V158.3" stroke="#008080" stroke-width="1" fill="none" shape-rendering="crispEdges"/>
<path d="M617.2 154.6H623.2M620.2 150.9V158.3" stroke="#008080" stroke-width="1" fill="none" shape-rendering="crispEdges"/>
<path d="M623.8 154.6H629.8M626.8 150.9V158.3" stroke="#008080" stroke-width="1" fill="none" shape-rendering="crispEdges"/>
<path d="M630.3 154.6H636.3M633.3 150.9V158.3" stroke="#008080" stroke-width="1" fill="none" shape-rendering="crispEdges"/>
<path d="M636.8 154.6H642.8M639.8 150.9V158.3" stroke="#008080" stroke-width="1" fill="none" shape-rendering="crispEdges"/>
<path d="M643.4 154.6H649.4M646.4 150.9V158.3" stroke="#008080" stroke-width="1" fill="none" shape-rendering="crispEdges"/>
<path d="M649.9 154.6H655.9M652.9 150.9V158.3" stroke="#008080" stroke-width="1" fill="none" shape-rendering="crispEdges"/>
<path d="M656.4 154.6H662.4M659.4 150.9V158.3" stroke="#008080" stroke-width="1" fill="none" shape-rendering="crispEdges"/>
<path d="M663 154.6H669M666 150.9V158.3" stroke="#008080" stroke-width="1" fill="none" shape-rendering="crispEdges"/>
<path d="M669.5 154.6H675.5M672.5 150.9V158.3" stroke="#008080" stroke-width="1" fill="none" shape-rendering="crispEdges"/>
<path d="M676 154.6H682M679 150.9V158.3" stroke="#008080" stroke-width="1" fill="none" shape-rendering="crispEdges"/>
<path d="M682.6 154.6H688.6M685.6 150.9V158.3" stroke="#008080" stroke-width="1" fill="none" shape-rendering="crispEdges"/>
<path d="M689.1 154.6H695.1M692.1 150.9V158.3" stroke="#008080" stroke-width="1" fill="none" shape-rendering="crispEdges"/>
<path d="M695.6 154.6H701.6M698.6 150.9V158.3" stroke="#008080" stroke-width="1" fill="none" shape-rendering="crispEdges"/>
<path d="M702.2 154.6H708.2M705.2 150.9V158.3" stroke="#008080" stroke-width="1" fill="none" shape-rendering="crispEdges"/>
<path d="M708.7 154.6H714.7M711.7 150.9V158.3" stroke="#008080" stroke-width="1" fill="none" shape-rendering="crispEdges"/>
<path d="M715.2 154.6H721.2M718.2 150.9V158.3" stroke="#008080" stroke-width="1" fill="none" shape-rendering="crispEdges"/>
<path d="M721.8 154.6H727.8M724.8 150.9V158.3" stroke="#008080" stroke-width="1" fill="none" shape-rendering="crispEdges"/>
<path d="M728.3 154.6H734.3M731.3 150.9V158.3" stroke="#008080" stroke-width="1" fill="none" shape-rendering="crispEdges"/>
<path d="M734.8 154.6H740.8M737.8 150.9V158.3" stroke="#008080" stroke-width="1" fill="none" shape-rendering="crispEdges"/>
<path d="M741.4 154.6H747.4M744.4 150.9V158.3" stroke="#008080" stroke-width="1" fill="none" shape-rendering="crispEdges"/>
<path d="M747.9 154.6H753.9M750.9 150.9V158.3" stroke="#008080" stroke-width="1" fill="none" shape-rendering="crispEdges"/>
<path d="M754.4 154.6H760.4M757.4 150.9V158.3" stroke="#008080" stroke-width="1" fill="none" shape-rendering="crispEdges"/>
<path d="M761 154.6H767M764 150.9V158.3" stroke="#008080" stroke-width="1" fill="none" shape-rendering="crispEdges"/>
<path d="M767.5 154.6H773.5M770.5 150.9V158.3" stroke="#008080" stroke-width="1" fill="none" shape-rendering="crispEdges"/>
<path d="M774 154.6H780M777 150.9V158.3" stroke="#008080" stroke-width="1" fill="none" shape-rendering="crispEdges"/>
<path d="M780.6 154.6H786.6M783.6 150.9V158.3" stroke="#008080" stroke-width="1" fill="none" shape-rendering="crispEdges"/>
<path d="M787.1 154.6H793.1M790.1 150.9V158.3" stroke="#008080" stroke-width="1" fill="none" shape-rendering="crispEdges"/>
<path d="M793.6 154.6H799.6M796.6 150.9V158.3" stroke="#008080" stroke-width="1" fill="none" shape-rendering="crispEdges"/>
<path d="M800.2 154.6H806.2M803.2 150.9V158.3" stroke="#008080" stroke-width="1" fill="none" shape-rendering="crispEdges"/>
<path d="M806.7 154.6H812.7M809.7 150.9V158.3" stroke="#008080" stroke-width="1" fill="none" shape-rendering="crispEdges"/>
<path d="M813.2 154.6H819.2M816.2 150.9V158.3" stroke="#008080" stroke-width="1" fill="none" shape-rendering="crispEdges"/>
<path d="M819.8 154.6H825.8M822.8 150.9V158.3" stroke="#008080" stroke-width="1" fill="none" shape-rendering="crispEdges"/>
<path d="M826.3 154.6H832.3M829.3 150.9V158.3" stroke="#008080" stroke-width="1" fill="none" shape-rendering="crispEdges"/>
<path d="M832.8 154.6H838.8M835.8 150.9V158.3" stroke="#008080" stroke-width="1" fill="none" shape-rendering="crispEdges"/>
<path d="M839.4 154.6H845.4M842.4 150.9V158.3" stroke="#008080" stroke-width="1" fill="none" shape-rendering="crispEdges"/>
<path d="M845.9 154.6H851.9M848.9 150.9V158.3" stroke="#008080" stroke-width="1" fill="none" shape-rendering="crispEdges"/>
<path d="M852.4 154.6H858.4M855.4 150.9V158.3" stroke="#008080" stroke-width="1" fill="none" shape-rendering="crispEdges"/>
<path d="M859 154.6H865M862 150.9V158.3" stroke="#008080" stroke-width="1" fill="none" shape-rendering="crispEdges"/>
<path d="M865.5 154.6H871.5M868.5 150.9V158.3" stroke="#008080" stroke-width="1" fill="none" shape-rendering="crispEdges"/>
<path d="M872 154.6H878M875 150.9V158.3" stroke="#008080" stroke-width="1" fill="none" shape-rendering="crispEdges"/>
</g>
<g font-weight="bold" font-size="13px" text-anchor="end" fill="#000" stroke="#000" stroke-width="0.7" letter-spacing="-0.1">
<text x="65.7" y="134.4">300</text>
<text x="65.7" y="197.4">200</text>
<text x="65.7" y="261.4">100</text>
<text x="65.7" y="325.4">0</text>
<text x="65.7" y="389.4">-100</text>
<text x="65.7" y="452.4">-200</text>
<text x="65.7" y="515.9">-300</text>
</g>
<g font-size="12.3px" text-anchor="end" fill="#000" stroke="#000" stroke-width="0.25">
<text transform="translate(80.2 529) rotate(-45)" textLength="66" lengthAdjust="spacing">01.05.2025</text>
<text transform="translate(125.9 529) rotate(-45)" textLength="66" lengthAdjust="spacing">08.05.2025</text>
<text transform="translate(171.7 529) rotate(-45)" textLength="66" lengthAdjust="spacing">15.05.2025</text>
<text transform="translate(217.4 529) rotate(-45)" textLength="66" lengthAdjust="spacing">22.05.2025</text>
<text transform="translate(263.1 529) rotate(-45)" textLength="66" lengthAdjust="spacing">29.05.2025</text>
<text transform="translate(308.9 529) rotate(-45)" textLength="66" lengthAdjust="spacing">05.06.2025</text>
<text transform="translate(354.6 529) rotate(-45)" textLength="66" lengthAdjust="spacing">12.06.2025</text>
<text transform="translate(400.3 529) rotate(-45)" textLength="66" lengthAdjust="spacing">19.06.2025</text>
<text transform="translate(446.0 529) rotate(-45)" textLength="66" lengthAdjust="spacing">26.06.2025</text>
<text transform="translate(491.8 529) rotate(-45)" textLength="66" lengthAdjust="spacing">03.07.2025</text>
<text transform="translate(537.5 529) rotate(-45)" textLength="66" lengthAdjust="spacing">10.07.2025</text>
<text transform="translate(583.2 529) rotate(-45)" textLength="66" lengthAdjust="spacing">17.07.2025</text>
<text transform="translate(629.0 529) rotate(-45)" textLength="66" lengthAdjust="spacing">24.07.2025</text>
<text transform="translate(674.7 529) rotate(-45)" textLength="66" lengthAdjust="spacing">31.07.2025</text>
<text transform="translate(720.4 529) rotate(-45)" textLength="66" lengthAdjust="spacing">07.08.2025</text>
<text transform="translate(766.2 529) rotate(-45)" textLength="66" lengthAdjust="spacing">14.08.2025</text>
<text transform="translate(811.9 529) rotate(-45)" textLength="66" lengthAdjust="spacing">21.08.2025</text>
<text transform="translate(857.6 529) rotate(-45)" textLength="66" lengthAdjust="spacing">28.08.2025</text>
</g>
<g font-size="12.5px" text-anchor="middle" fill="#000" stroke="#000" stroke-width="0.15">
<text x="522.2" y="175">12</text>
<text x="534.8" y="124.5">90</text>
<text x="874.0" y="143">62</text>
</g>
<g>
<rect x="874.5" y="190.5" width="91" height="191" fill="#fff" stroke="#000" stroke-width="1" shape-rendering="crispEdges"/>
<line x1="878.5" x2="904.5" y1="197.5" y2="197.5" stroke="#000080" stroke-width="1" shape-rendering="crispEdges"/>
<path d="M891.5 193.9L895.1 197.5L891.5 201.1L887.9 197.5Z" fill="#000080"/>
<text x="907.5" y="201.9" font-size="12px" fill="#000">850_00</text>
<line x1="878.5" x2="904.5" y1="224.5" y2="224.5" stroke="#ff00ff" stroke-width="1" shape-rendering="crispEdges"/>
<rect x="888.1" y="221.1" width="6.8" height="6.8" fill="#ff00ff"/>
<text x="907.5" y="228.9" font-size="12px" fill="#000">500_00</text>
<line x1="878.5" x2="904.5" y1="251.5" y2="251.5" stroke="#6aa53c" stroke-width="1" shape-rendering="crispEdges"/>
<path d="M891.5 248.2L895.2 254.7H887.8Z" fill="#ffff00"/><path d="M891.5 250.2L893.3 253.8H889.7Z" fill="#ff8c3a"/>
<text x="907.5" y="255.9" font-size="12px" fill="#000">300_00</text>
<line x1="878.5" x2="904.5" y1="278.5" y2="278.5" stroke="#00ffff" stroke-width="1" shape-rendering="crispEdges"/>
<rect x="889.5" y="276.5" width="4" height="4" fill="#e6ffff" stroke="#00ffff" stroke-width="1"/>
<text x="907.5" y="282.9" font-size="12px" fill="#000">100_00</text>
<line x1="878.5" x2="904.5" y1="305.5" y2="305.5" stroke="#800080" stroke-width="1" shape-rendering="crispEdges"/>
<path d="M888.2 302.2L894.8 308.8M894.8 302.2L888.2 308.8M891.5 301.3V309.7" stroke="#800080" stroke-width="1" fill="none" shape-rendering="crispEdges"/>
<text x="907.5" y="309.9" font-size="12px" fill="#000">50_00</text>
<line x1="878.5" x2="904.5" y1="333.5" y2="333.5" stroke="#ccffcc" stroke-width="1" shape-rendering="crispEdges"/>
<path d="M891.5 330.4L894.1 332.5V336.1H888.9V332.5Z" fill="#ccccff" stroke="#ccffcc" stroke-width="0.9" stroke-linejoin="round"/>
<text x="907.5" y="337.9" font-size="12px" fill="#000" textLength="55">напр_500</text>
<text x="907.5" y="351.5" font-size="12px" fill="#000">_00</text>
<line x1="878.5" x2="904.5" y1="361.5" y2="361.5" stroke="#008080" stroke-width="1" shape-rendering="crispEdges"/>
<path d="M888.5 361.5H894.5M891.5 357.8V365.2" stroke="#008080" stroke-width="1" fill="none" shape-rendering="crispEdges"/>
<text x="907.5" y="365.9" font-size="12px" fill="#000">тип</text>
<text x="907.5" y="379.5" font-size="12px" fill="#000" textLength="54">зонда_00</text>
</g>
</svg></body></html>
